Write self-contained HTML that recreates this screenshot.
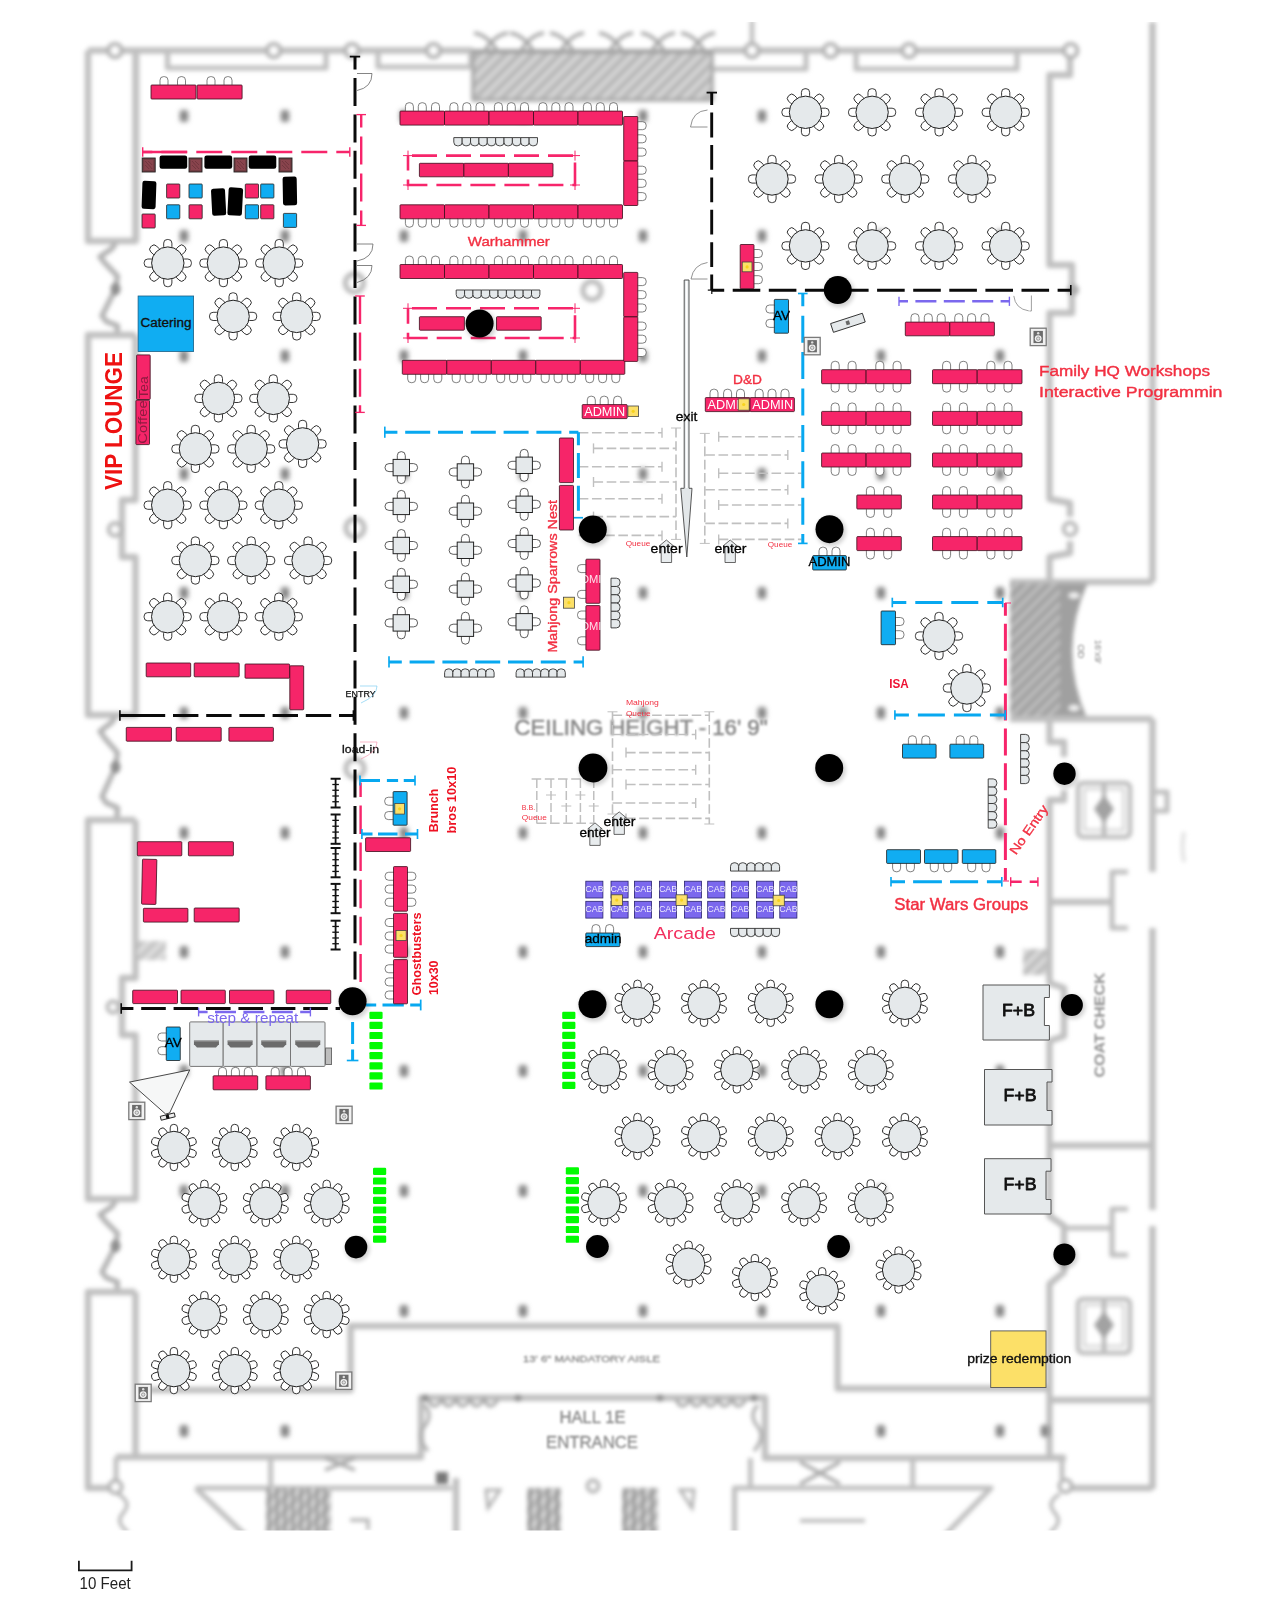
<!DOCTYPE html>
<html><head><meta charset="utf-8"><title>Floor plan</title>
<style>
html,body{margin:0;padding:0;background:#fff;}
body{width:1280px;height:1599px;overflow:hidden;font-family:"Liberation Sans",sans-serif;}
svg{display:block;font-family:"Liberation Sans",sans-serif;}
</style></head><body>
<svg width="1280" height="1599" viewBox="0 0 1280 1599">
<defs>
<filter id="b1" x="-5%" y="-5%" width="110%" height="110%"><feGaussianBlur stdDeviation="2"/></filter>
<filter id="b2" x="-50%" y="-50%" width="200%" height="200%"><feGaussianBlur stdDeviation="2"/></filter>
<filter id="b4" x="-100%" y="-100%" width="300%" height="300%"><feGaussianBlur stdDeviation="2.5"/></filter>
<filter id="b3" x="-20%" y="-20%" width="140%" height="140%"><feGaussianBlur stdDeviation="1.2"/></filter>
<pattern id="hatch" width="9.5" height="9.5" patternUnits="userSpaceOnUse" patternTransform="rotate(-45)"><rect width="9.5" height="9.5" fill="#b9b9b9"/><rect width="9.5" height="3.4" fill="#dcdcdc"/></pattern>
<pattern id="hatch2" width="8.9" height="8.9" patternUnits="userSpaceOnUse" patternTransform="rotate(-45)"><rect width="8.9" height="8.9" fill="#a2a2a2"/><rect width="8.9" height="3.2" fill="#c2c2c2"/></pattern>
<clipPath id="bgclip"><rect x="70" y="22" width="1140" height="1508.5"/></clipPath>
<g id="rt8"><g fill="#fff" stroke="#222" stroke-width="0.9"><rect x="-4.1" y="-23.6" width="8.2" height="10.6" rx="3.6" transform="rotate(0)"/><rect x="-4.1" y="-23.6" width="8.2" height="10.6" rx="3.6" transform="rotate(45)"/><rect x="-4.1" y="-23.6" width="8.2" height="10.6" rx="3.6" transform="rotate(90)"/><rect x="-4.1" y="-23.6" width="8.2" height="10.6" rx="3.6" transform="rotate(135)"/><rect x="-4.1" y="-23.6" width="8.2" height="10.6" rx="3.6" transform="rotate(180)"/><rect x="-4.1" y="-23.6" width="8.2" height="10.6" rx="3.6" transform="rotate(225)"/><rect x="-4.1" y="-23.6" width="8.2" height="10.6" rx="3.6" transform="rotate(270)"/><rect x="-4.1" y="-23.6" width="8.2" height="10.6" rx="3.6" transform="rotate(315)"/></g><circle r="16.2" fill="#E5E9EB" stroke="#222" stroke-width="1"/></g>
<g id="rt10"><g fill="#fff" stroke="#222" stroke-width="0.9"><rect x="-3.7" y="-23.2" width="7.4" height="10.2" rx="3.6" transform="rotate(0)"/><rect x="-3.7" y="-23.2" width="7.4" height="10.2" rx="3.6" transform="rotate(36)"/><rect x="-3.7" y="-23.2" width="7.4" height="10.2" rx="3.6" transform="rotate(72)"/><rect x="-3.7" y="-23.2" width="7.4" height="10.2" rx="3.6" transform="rotate(108)"/><rect x="-3.7" y="-23.2" width="7.4" height="10.2" rx="3.6" transform="rotate(144)"/><rect x="-3.7" y="-23.2" width="7.4" height="10.2" rx="3.6" transform="rotate(180)"/><rect x="-3.7" y="-23.2" width="7.4" height="10.2" rx="3.6" transform="rotate(216)"/><rect x="-3.7" y="-23.2" width="7.4" height="10.2" rx="3.6" transform="rotate(252)"/><rect x="-3.7" y="-23.2" width="7.4" height="10.2" rx="3.6" transform="rotate(288)"/><rect x="-3.7" y="-23.2" width="7.4" height="10.2" rx="3.6" transform="rotate(324)"/></g><circle r="16.2" fill="#E5E9EB" stroke="#222" stroke-width="1"/></g>
<g id="sq"><g fill="#fff" stroke="#333" stroke-width="0.8"><rect x="-4" y="-16" width="8" height="12" rx="4"/><rect x="-4" y="4" width="8" height="12" rx="4"/><rect x="-16.3" y="-4" width="12" height="8" rx="4"/><rect x="4.3" y="-4" width="12" height="8" rx="4"/></g><rect x="-8.2" y="-8.2" width="16.4" height="16.4" fill="#E5E9EB" stroke="#222" stroke-width="1"/></g>
<g id="spk"><rect x="0.6" y="0" width="16" height="17.4" fill="#F1F1F1" stroke="#7a7a7a" stroke-width="1.3"/><rect x="3.9" y="2.7" width="9.4" height="12.2" fill="#6c6c6c"/><circle cx="8.6" cy="10.4" r="3.4" fill="#f2f2f2"/><circle cx="8.6" cy="10.4" r="1.7" fill="#e0e0e0" stroke="#7e7e7e" stroke-width="0.7"/><circle cx="8.6" cy="5" r="1.2" fill="#ddd"/></g>
<g id="uparrow"><path d="M0 0 L7.2 6 L5.2 6 L5.2 22.5 L-5.2 22.5 L-5.2 6 L-7.2 6 Z" fill="#E8ECEE" stroke="#444" stroke-width="0.8"/></g>
</defs>
<g clip-path="url(#bgclip)"><g filter="url(#b1)">
<path d="M88 50.5 L473 50.5" fill="none" stroke="#c0c0c0" stroke-width="6.4" stroke-linejoin="round"/>
<path d="M712 50.5 L1070 50.5" fill="none" stroke="#c0c0c0" stroke-width="6.4" stroke-linejoin="round"/>
<path d="M167.5 52 L167.5 68 L326 68 L326 52" fill="none" stroke="#c0c0c0" stroke-width="5.22" stroke-linejoin="round"/>
<path d="M378 52 L378 67 L471 67 L471 52" fill="none" stroke="#c0c0c0" stroke-width="5.22" stroke-linejoin="round"/>
<path d="M700 52 L700 69 L806 69 L806 52" fill="none" stroke="#c0c0c0" stroke-width="5.22" stroke-linejoin="round"/>
<path d="M856 52 L856 69 L1017 69 L1017 52" fill="none" stroke="#c0c0c0" stroke-width="5.22" stroke-linejoin="round"/>
<path d="M752 20 L752 44" fill="none" stroke="#c0c0c0" stroke-width="4.64" stroke-linejoin="round"/>
<rect x="473" y="50" width="239" height="50" fill="url(#hatch)"/>
<path d="M473 50 L473 100 L712 100 L712 50" fill="none" stroke="#a8a8a8" stroke-width="3.62" stroke-linejoin="round"/>
<path d="M473 51.5 H712" stroke="#a6a6a6" stroke-width="5" fill="none"/>
<path d="M474 33 Q488 35 498 52 M508 33 Q494 35 484 52" fill="none" stroke="#a8a8a8" stroke-width="3.4"/>
<path d="M510 33 Q524 35 534 52 M544 33 Q530 35 520 52" fill="none" stroke="#a8a8a8" stroke-width="3.4"/>
<path d="M550 33 Q564 35 574 52 M584 33 Q570 35 560 52" fill="none" stroke="#a8a8a8" stroke-width="3.4"/>
<path d="M599 33 Q613 35 623 52 M633 33 Q619 35 609 52" fill="none" stroke="#a8a8a8" stroke-width="3.4"/>
<path d="M641 33 Q655 35 665 52 M675 33 Q661 35 651 52" fill="none" stroke="#a8a8a8" stroke-width="3.4"/>
<path d="M681 33 Q695 35 705 52 M715 33 Q701 35 691 52" fill="none" stroke="#a8a8a8" stroke-width="3.4"/>
<path d="M88 50.5 L88 241 L135.5 241 L135.5 50.5" fill="none" stroke="#c0c0c0" stroke-width="6.4" stroke-linejoin="round"/>
<path d="M137.5 52 L137.5 241" fill="none" stroke="#c2c2c2" stroke-width="3.62" stroke-linejoin="round"/>
<path d="M115.5 243 L112 248.52 L100 256.8 L105 263.24 L117.5 276.12 L115.5 289 L102 315.68 L106 321.2 L117.5 325.8 L117 335" fill="none" stroke="#b4b4b4" stroke-width="5.4" stroke-linejoin="round"/>
<ellipse cx="115.5" cy="289" rx="5" ry="6.5" fill="#8f8f8f"/>
<path d="M135.5 335 L88 335 L88 715 L135.5 715 L135.5 557 L122 557 L122 500 L135.5 500 L135.5 335" fill="none" stroke="#c0c0c0" stroke-width="6.4" stroke-linejoin="round"/>
<path d="M115.5 716 L112 722.12 L100 731.3 L105 738.44 L117.5 752.72 L115.5 767 L102 796.58 L106 802.7 L117.5 807.8 L117 818" fill="none" stroke="#b4b4b4" stroke-width="5.4" stroke-linejoin="round"/>
<ellipse cx="115.5" cy="767" rx="5" ry="6.5" fill="#8f8f8f"/>
<path d="M135.5 820 L88 820 L88 1199 L135.5 1199 L135.5 1035 L122 1035 L122 978 L135.5 978 L135.5 820" fill="none" stroke="#c0c0c0" stroke-width="6.4" stroke-linejoin="round"/>
<path d="M115.5 1201 L112 1206.4 L100 1214.5 L105 1220.8 L117.5 1233.4 L115.5 1246 L102 1272.1 L106 1277.5 L117.5 1282 L117 1291" fill="none" stroke="#b4b4b4" stroke-width="5.4" stroke-linejoin="round"/>
<ellipse cx="115.5" cy="1246" rx="5" ry="6.5" fill="#8f8f8f"/>
<path d="M135.5 1292 L88 1292 L88 1488 L116 1488" fill="none" stroke="#c0c0c0" stroke-width="6.4" stroke-linejoin="round"/>
<path d="M135.5 1292 L135.5 1457" fill="none" stroke="#c0c0c0" stroke-width="6.4" stroke-linejoin="round"/>
<path d="M118 1494 q14 8 6 18 q-10 10 4 20" fill="none" stroke="#b8b8b8" stroke-width="3.6"/>
<rect x="137" y="941" width="29" height="19" fill="url(#hatch)" opacity="0.8"/>
<rect x="1023" y="949" width="25" height="26" fill="url(#hatch)" opacity="0.9"/>
<path d="M1070 50.5 L1070 75 L1049.5 75 L1049.5 265 L1072 265 L1072 313 L1049.5 313 L1049.5 499 L1070 503 L1070 517" fill="none" stroke="#c0c0c0" stroke-width="6.4" stroke-linejoin="round"/>
<path d="M1070 541 L1070 553 L1049.5 557 L1049.5 582" fill="none" stroke="#c0c0c0" stroke-width="6.4" stroke-linejoin="round"/>
<path d="M1152.5 22 L1152.5 582" fill="none" stroke="#c0c0c0" stroke-width="6.6" stroke-linejoin="round"/>
<path d="M1152.5 719 L1152.5 872" fill="none" stroke="#c0c0c0" stroke-width="6.6" stroke-linejoin="round"/>
<path d="M1152.5 928 L1152.5 1210" fill="none" stroke="#c0c0c0" stroke-width="6.6" stroke-linejoin="round"/>
<path d="M1152.5 1226 L1152.5 1489" fill="none" stroke="#c0c0c0" stroke-width="6.6" stroke-linejoin="round"/>
<path d="M1010 582 L1152.5 582" fill="none" stroke="#c0c0c0" stroke-width="6.4" stroke-linejoin="round"/>
<circle cx="1073" cy="290" r="6" fill="#adadad"/>
<rect x="1010" y="583.5" width="51" height="136" fill="url(#hatch2)"/>
<path d="M1060 583.5 L1087.5 583.5 Q1057 651 1087.5 719.5 L1060 719.5 Z" fill="#a0a0a0"/>
<ellipse cx="1074" cy="595.5" rx="5.5" ry="3" fill="#f4f4f4"/>
<ellipse cx="1074" cy="708" rx="5.5" ry="3" fill="#f4f4f4"/>
<path d="M1010 719 L1152.5 719" fill="none" stroke="#c0c0c0" stroke-width="6.4" stroke-linejoin="round"/>
<path d="M1049.5 719 L1049.5 742 L1064 742 L1064 757" fill="none" stroke="#c0c0c0" stroke-width="6.4" stroke-linejoin="round"/>
<path d="M1064 790 L1064 800 L1049.5 800 L1049.5 983 L1064 988 L1064 1036 L1049.5 1041 L1049.5 1216 L1064 1226 L1064 1272 L1049.5 1284 L1049.5 1457" fill="none" stroke="#c0c0c0" stroke-width="6.4" stroke-linejoin="round"/>
<path d="M1049.5 902 L1112 902" fill="none" stroke="#c0c0c0" stroke-width="6.4" stroke-linejoin="round"/>
<path d="M1128 872 L1112 872 L1112 928 L1128 928" fill="none" stroke="#c0c0c0" stroke-width="5.22" stroke-linejoin="round"/>
<path d="M1049.5 1145.5 L1152.5 1145.5" fill="none" stroke="#c0c0c0" stroke-width="6.4" stroke-linejoin="round"/>
<path d="M1064 1228 L1112 1228" fill="none" stroke="#c0c0c0" stroke-width="4.93" stroke-linejoin="round"/>
<path d="M1128 1209 L1112 1209 L1112 1255 L1128 1255" fill="none" stroke="#c0c0c0" stroke-width="5.22" stroke-linejoin="round"/>
<path d="M1049.5 1400 L1152.5 1400" fill="none" stroke="#c0c0c0" stroke-width="6.4" stroke-linejoin="round"/>
<rect x="1078" y="783" width="52" height="54" rx="5" fill="none" stroke="#bdbdbd" stroke-width="4.6"/>
<rect x="1084.5" y="789" width="39" height="41" fill="none" stroke="#d2d2d2" stroke-width="2.6"/>
<path d="M1104 785 v50" stroke="#b2b2b2" stroke-width="4" fill="none"/>
<path d="M1104 795 l10 14 l-10 14 l-10 -14 z" fill="#a2a2a2"/>
<rect x="1078" y="1299" width="52" height="54" rx="5" fill="none" stroke="#bdbdbd" stroke-width="4.6"/>
<rect x="1084.5" y="1305" width="39" height="41" fill="none" stroke="#d2d2d2" stroke-width="2.6"/>
<path d="M1104 1301 v50" stroke="#b2b2b2" stroke-width="4" fill="none"/>
<path d="M1104 1311 l10 14 l-10 14 l-10 -14 z" fill="#a2a2a2"/>
<path d="M1152.5 792 L1167 792 L1167 811 L1152.5 811" fill="none" stroke="#c0c0c0" stroke-width="5.22" stroke-linejoin="round"/>
<path d="M1184 832 q-3 14 0 30" stroke="#e2e2e2" stroke-width="4" fill="none"/>
<path d="M135.5 1390 L350.6 1390 L350.6 1326 L837.6 1326 L837.6 1388.5 L1049.5 1388.5" fill="none" stroke="#c0c0c0" stroke-width="6.4" stroke-linejoin="round"/>
<path d="M116 1457 L421 1457 L421 1397.7 L765 1397.7 L765 1458 L1066 1458" fill="none" stroke="#c0c0c0" stroke-width="6.4" stroke-linejoin="round"/>
<path d="M116 1457 L116 1480" fill="none" stroke="#c0c0c0" stroke-width="4.93" stroke-linejoin="round"/>
<path d="M195.6 1488 L452 1488" fill="none" stroke="#c0c0c0" stroke-width="5.22" stroke-linejoin="round"/>
<path d="M270.7 1457 L270.7 1488" fill="none" stroke="#c0c0c0" stroke-width="4.93" stroke-linejoin="round"/>
<path d="M456 1478 L456 1535" fill="none" stroke="#c0c0c0" stroke-width="6.4" stroke-linejoin="round"/>
<path d="M195.6 1488 L245 1535" fill="none" stroke="#c0c0c0" stroke-width="5.22" stroke-linejoin="round"/>
<rect x="266" y="1488" width="65" height="46" fill="url(#hatch)"/>
<path d="M269 1488 v46" stroke="#8f8f8f" stroke-width="2.6"/>
<path d="M277 1488 v46" stroke="#8f8f8f" stroke-width="2.6"/>
<path d="M285 1488 v46" stroke="#8f8f8f" stroke-width="2.6"/>
<path d="M293 1488 v46" stroke="#8f8f8f" stroke-width="2.6"/>
<path d="M301 1488 v46" stroke="#8f8f8f" stroke-width="2.6"/>
<path d="M309 1488 v46" stroke="#8f8f8f" stroke-width="2.6"/>
<path d="M317 1488 v46" stroke="#8f8f8f" stroke-width="2.6"/>
<path d="M325 1488 v46" stroke="#8f8f8f" stroke-width="2.6"/>
<path d="M325 1470 l30 -12 M325 1458 l30 12" stroke="#a5a5a5" stroke-width="3.4" fill="none"/>
<path d="M350 1520 h18 v10" stroke="#b5b5b5" stroke-width="3.4" fill="none"/>
<path d="M428 1399 q6 14 14 0 q6 14 14 0 q6 14 14 0 q6 14 14 0 q6 14 14 0" fill="none" stroke="#a5a5a5" stroke-width="3.2"/>
<path d="M676 1399 q6 14 14 0 q6 14 14 0 q6 14 14 0 q6 14 14 0 q6 14 14 0" fill="none" stroke="#a5a5a5" stroke-width="3.2"/>
<circle cx="425" cy="1398" r="3.6" fill="#8d8d8d"/>
<circle cx="518" cy="1398" r="3.6" fill="#8d8d8d"/>
<circle cx="660" cy="1398" r="3.6" fill="#8d8d8d"/>
<circle cx="754" cy="1398" r="3.6" fill="#8d8d8d"/>
<path d="M424 1405 q10 10 0 22 q-8 10 4 24" fill="none" stroke="#adadad" stroke-width="3.4"/>
<path d="M758 1405 q-10 10 0 22 q8 10 -4 24" fill="none" stroke="#adadad" stroke-width="3.4"/>
<rect x="436" y="1472" width="12" height="12" fill="#777"/>
<rect x="527" y="1488" width="34" height="46" fill="url(#hatch)"/>
<rect x="622" y="1488" width="36" height="46" fill="url(#hatch)"/>
<path d="M530 1488 v46" stroke="#8f8f8f" stroke-width="3"/>
<path d="M539 1488 v46" stroke="#8f8f8f" stroke-width="3"/>
<path d="M548 1488 v46" stroke="#8f8f8f" stroke-width="3"/>
<path d="M557 1488 v46" stroke="#8f8f8f" stroke-width="3"/>
<path d="M625 1488 v46" stroke="#8f8f8f" stroke-width="3"/>
<path d="M634 1488 v46" stroke="#8f8f8f" stroke-width="3"/>
<path d="M643 1488 v46" stroke="#8f8f8f" stroke-width="3"/>
<path d="M652 1488 v46" stroke="#8f8f8f" stroke-width="3"/>
<path d="M486 1490 l14 0 l-12 18 z" fill="none" stroke="#b0b0b0" stroke-width="3"/>
<path d="M694 1490 l-14 0 l12 18 z" fill="none" stroke="#b0b0b0" stroke-width="3"/>
<path d="M734.5 1535 L734.5 1488 L991 1488 L945 1535" fill="none" stroke="#c0c0c0" stroke-width="5.22" stroke-linejoin="round"/>
<path d="M750.4 1458 L750.4 1488" fill="none" stroke="#c0c0c0" stroke-width="4.93" stroke-linejoin="round"/>
<path d="M912.7 1458 L912.7 1488" fill="none" stroke="#c0c0c0" stroke-width="4.93" stroke-linejoin="round"/>
<path d="M800 1520.7 h65" stroke="#b5b5b5" stroke-width="3.4"/>
<path d="M800 1462 l40 22 M840 1462 l-40 22" stroke="#a5a5a5" stroke-width="3.4" fill="none"/>
<path d="M1152.5 1488 L1072 1488" fill="none" stroke="#c0c0c0" stroke-width="6.4" stroke-linejoin="round"/>
<path d="M1049.5 1457 L1062 1457 L1062 1479" fill="none" stroke="#c0c0c0" stroke-width="4.93" stroke-linejoin="round"/>
<path d="M1060 1494 q-14 8 -6 18 q10 10 -4 20" fill="none" stroke="#b8b8b8" stroke-width="3.6"/>
<circle cx="115" cy="50.5" r="6.6" fill="#fff" stroke="#b4b4b4" stroke-width="4.32"/>
<circle cx="273.75" cy="50.5" r="6.6" fill="#fff" stroke="#b4b4b4" stroke-width="4.32"/>
<circle cx="352" cy="50.5" r="6.6" fill="#fff" stroke="#b4b4b4" stroke-width="4.32"/>
<circle cx="433.5" cy="50.5" r="6.6" fill="#fff" stroke="#b4b4b4" stroke-width="4.32"/>
<circle cx="752" cy="50.5" r="6.6" fill="#fff" stroke="#b4b4b4" stroke-width="4.32"/>
<circle cx="830.5" cy="50.5" r="6.6" fill="#fff" stroke="#b4b4b4" stroke-width="4.32"/>
<circle cx="909" cy="50.5" r="6.6" fill="#fff" stroke="#b4b4b4" stroke-width="4.32"/>
<circle cx="1070.7" cy="50.5" r="6.6" fill="#fff" stroke="#b4b4b4" stroke-width="4.32"/>
<circle cx="115" cy="529.5" r="6.2" fill="#fff" stroke="#b4b4b4" stroke-width="4.08"/>
<circle cx="113" cy="1007" r="5.5" fill="#fff" stroke="#b4b4b4" stroke-width="3.84"/>
<circle cx="115.5" cy="1487" r="6.2" fill="#fff" stroke="#b4b4b4" stroke-width="4.08"/>
<circle cx="1070" cy="529" r="6.2" fill="#fff" stroke="#b4b4b4" stroke-width="4.08"/>
<circle cx="593" cy="1486" r="5.5" fill="#fff" stroke="#b4b4b4" stroke-width="3.84"/>
<circle cx="1065.5" cy="1486" r="6" fill="#fff" stroke="#b4b4b4" stroke-width="4.08"/>
<circle cx="592" cy="290.5" r="9" fill="#fff" stroke="#bdbdbd" stroke-width="5.4"/>
<circle cx="354.4" cy="283" r="9" fill="#fff" stroke="#bdbdbd" stroke-width="5.4"/>
<circle cx="355" cy="528" r="9" fill="#fff" stroke="#bdbdbd" stroke-width="5.4"/>
<circle cx="355" cy="768.5" r="9" fill="#fff" stroke="#bdbdbd" stroke-width="5.4"/>
</g><g filter="url(#b4)">
<rect x="179.75" y="110" width="8.5" height="12" rx="3" fill="#868686"/>
<rect x="179.75" y="230" width="8.5" height="12" rx="3" fill="#868686"/>
<rect x="179.75" y="350" width="8.5" height="12" rx="3" fill="#868686"/>
<rect x="179.75" y="468" width="8.5" height="12" rx="3" fill="#868686"/>
<rect x="179.75" y="587" width="8.5" height="12" rx="3" fill="#868686"/>
<rect x="179.75" y="707" width="8.5" height="12" rx="3" fill="#868686"/>
<rect x="179.75" y="827" width="8.5" height="12" rx="3" fill="#868686"/>
<rect x="179.75" y="946" width="8.5" height="12" rx="3" fill="#868686"/>
<rect x="179.75" y="1065" width="8.5" height="12" rx="3" fill="#868686"/>
<rect x="179.75" y="1185" width="8.5" height="12" rx="3" fill="#868686"/>
<rect x="280.75" y="110" width="8.5" height="12" rx="3" fill="#868686"/>
<rect x="280.75" y="230" width="8.5" height="12" rx="3" fill="#868686"/>
<rect x="280.75" y="350" width="8.5" height="12" rx="3" fill="#868686"/>
<rect x="280.75" y="468" width="8.5" height="12" rx="3" fill="#868686"/>
<rect x="280.75" y="587" width="8.5" height="12" rx="3" fill="#868686"/>
<rect x="280.75" y="707" width="8.5" height="12" rx="3" fill="#868686"/>
<rect x="280.75" y="827" width="8.5" height="12" rx="3" fill="#868686"/>
<rect x="280.75" y="946" width="8.5" height="12" rx="3" fill="#868686"/>
<rect x="280.75" y="1065" width="8.5" height="12" rx="3" fill="#868686"/>
<rect x="280.75" y="1185" width="8.5" height="12" rx="3" fill="#868686"/>
<rect x="399.75" y="110" width="8.5" height="12" rx="3" fill="#868686"/>
<rect x="399.75" y="230" width="8.5" height="12" rx="3" fill="#868686"/>
<rect x="399.75" y="350" width="8.5" height="12" rx="3" fill="#868686"/>
<rect x="399.75" y="468" width="8.5" height="12" rx="3" fill="#868686"/>
<rect x="399.75" y="587" width="8.5" height="12" rx="3" fill="#868686"/>
<rect x="399.75" y="707" width="8.5" height="12" rx="3" fill="#868686"/>
<rect x="399.75" y="827" width="8.5" height="12" rx="3" fill="#868686"/>
<rect x="399.75" y="946" width="8.5" height="12" rx="3" fill="#868686"/>
<rect x="399.75" y="1065" width="8.5" height="12" rx="3" fill="#868686"/>
<rect x="399.75" y="1185" width="8.5" height="12" rx="3" fill="#868686"/>
<rect x="399.75" y="1305" width="8.5" height="12" rx="3" fill="#868686"/>
<rect x="518.75" y="110" width="8.5" height="12" rx="3" fill="#868686"/>
<rect x="518.75" y="230" width="8.5" height="12" rx="3" fill="#868686"/>
<rect x="518.75" y="350" width="8.5" height="12" rx="3" fill="#868686"/>
<rect x="518.75" y="468" width="8.5" height="12" rx="3" fill="#868686"/>
<rect x="518.75" y="587" width="8.5" height="12" rx="3" fill="#868686"/>
<rect x="518.75" y="707" width="8.5" height="12" rx="3" fill="#868686"/>
<rect x="518.75" y="827" width="8.5" height="12" rx="3" fill="#868686"/>
<rect x="518.75" y="946" width="8.5" height="12" rx="3" fill="#868686"/>
<rect x="518.75" y="1065" width="8.5" height="12" rx="3" fill="#868686"/>
<rect x="518.75" y="1185" width="8.5" height="12" rx="3" fill="#868686"/>
<rect x="518.75" y="1305" width="8.5" height="12" rx="3" fill="#868686"/>
<rect x="638.75" y="110" width="8.5" height="12" rx="3" fill="#868686"/>
<rect x="638.75" y="230" width="8.5" height="12" rx="3" fill="#868686"/>
<rect x="638.75" y="350" width="8.5" height="12" rx="3" fill="#868686"/>
<rect x="638.75" y="468" width="8.5" height="12" rx="3" fill="#868686"/>
<rect x="638.75" y="587" width="8.5" height="12" rx="3" fill="#868686"/>
<rect x="638.75" y="707" width="8.5" height="12" rx="3" fill="#868686"/>
<rect x="638.75" y="827" width="8.5" height="12" rx="3" fill="#868686"/>
<rect x="638.75" y="946" width="8.5" height="12" rx="3" fill="#868686"/>
<rect x="638.75" y="1065" width="8.5" height="12" rx="3" fill="#868686"/>
<rect x="638.75" y="1185" width="8.5" height="12" rx="3" fill="#868686"/>
<rect x="638.75" y="1305" width="8.5" height="12" rx="3" fill="#868686"/>
<rect x="757.75" y="110" width="8.5" height="12" rx="3" fill="#868686"/>
<rect x="757.75" y="230" width="8.5" height="12" rx="3" fill="#868686"/>
<rect x="757.75" y="350" width="8.5" height="12" rx="3" fill="#868686"/>
<rect x="757.75" y="468" width="8.5" height="12" rx="3" fill="#868686"/>
<rect x="757.75" y="587" width="8.5" height="12" rx="3" fill="#868686"/>
<rect x="757.75" y="707" width="8.5" height="12" rx="3" fill="#868686"/>
<rect x="757.75" y="827" width="8.5" height="12" rx="3" fill="#868686"/>
<rect x="757.75" y="946" width="8.5" height="12" rx="3" fill="#868686"/>
<rect x="757.75" y="1065" width="8.5" height="12" rx="3" fill="#868686"/>
<rect x="757.75" y="1185" width="8.5" height="12" rx="3" fill="#868686"/>
<rect x="757.75" y="1305" width="8.5" height="12" rx="3" fill="#868686"/>
<rect x="876.75" y="110" width="8.5" height="12" rx="3" fill="#868686"/>
<rect x="876.75" y="230" width="8.5" height="12" rx="3" fill="#868686"/>
<rect x="876.75" y="350" width="8.5" height="12" rx="3" fill="#868686"/>
<rect x="876.75" y="468" width="8.5" height="12" rx="3" fill="#868686"/>
<rect x="876.75" y="587" width="8.5" height="12" rx="3" fill="#868686"/>
<rect x="876.75" y="707" width="8.5" height="12" rx="3" fill="#868686"/>
<rect x="876.75" y="827" width="8.5" height="12" rx="3" fill="#868686"/>
<rect x="876.75" y="946" width="8.5" height="12" rx="3" fill="#868686"/>
<rect x="876.75" y="1065" width="8.5" height="12" rx="3" fill="#868686"/>
<rect x="876.75" y="1185" width="8.5" height="12" rx="3" fill="#868686"/>
<rect x="876.75" y="1305" width="8.5" height="12" rx="3" fill="#868686"/>
<rect x="995.75" y="110" width="8.5" height="12" rx="3" fill="#868686"/>
<rect x="995.75" y="230" width="8.5" height="12" rx="3" fill="#868686"/>
<rect x="995.75" y="350" width="8.5" height="12" rx="3" fill="#868686"/>
<rect x="995.75" y="468" width="8.5" height="12" rx="3" fill="#868686"/>
<rect x="995.75" y="587" width="8.5" height="12" rx="3" fill="#868686"/>
<rect x="995.75" y="707" width="8.5" height="12" rx="3" fill="#868686"/>
<rect x="995.75" y="827" width="8.5" height="12" rx="3" fill="#868686"/>
<rect x="995.75" y="946" width="8.5" height="12" rx="3" fill="#868686"/>
<rect x="995.75" y="1065" width="8.5" height="12" rx="3" fill="#868686"/>
<rect x="995.75" y="1185" width="8.5" height="12" rx="3" fill="#868686"/>
<rect x="995.75" y="1305" width="8.5" height="12" rx="3" fill="#868686"/>
<rect x="179.75" y="1425" width="8.5" height="12" rx="3" fill="#868686"/>
<rect x="280.75" y="1425" width="8.5" height="12" rx="3" fill="#868686"/>
<rect x="876.75" y="1425" width="8.5" height="12" rx="3" fill="#868686"/>
<rect x="995.75" y="1425" width="8.5" height="12" rx="3" fill="#868686"/>
<rect x="1040.75" y="1425" width="8.5" height="12" rx="3" fill="#868686"/>
</g><g filter="url(#b3)">
<text x="1078.2" y="651.3" font-size="9.5" fill="#858585" font-weight="normal" text-anchor="middle" transform="rotate(90 1078.2 651.3)">OD</text>
<text x="1094.5" y="651.7" font-size="9.5" fill="#858585" font-weight="normal" text-anchor="middle" transform="rotate(90 1094.5 651.7)">16'x9'</text>
<text x="1104.5" y="1025" font-size="15.5" fill="#8f8f8f" font-weight="bold" text-anchor="middle" textLength="105" lengthAdjust="spacingAndGlyphs" transform="rotate(-90 1104.5 1025)">COAT CHECK</text>
<text x="591.5" y="1362" font-size="9.5" fill="#858585" font-weight="normal" text-anchor="middle" textLength="137" lengthAdjust="spacingAndGlyphs" stroke="#858585" stroke-width="0.26" stroke-linejoin="round">13' 6" MANDATORY AISLE</text>
<text x="592.5" y="1422.5" font-size="16" fill="#8a8a8a" font-weight="normal" text-anchor="middle" textLength="66" lengthAdjust="spacingAndGlyphs" stroke="#8a8a8a" stroke-width="0.3" stroke-linejoin="round">HALL 1E</text>
<text x="592" y="1448" font-size="16" fill="#8a8a8a" font-weight="normal" text-anchor="middle" textLength="92" lengthAdjust="spacingAndGlyphs" stroke="#8a8a8a" stroke-width="0.3" stroke-linejoin="round">ENTRANCE</text>
<text x="641" y="734.5" font-size="22.5" fill="#8a8a8a" font-weight="normal" text-anchor="middle" textLength="253" lengthAdjust="spacingAndGlyphs" stroke="#8a8a8a" stroke-width="0.61" stroke-linejoin="round">CEILING HEIGHT  -  16' 9"</text>
</g></g>
<g>
<line x1="578.75" y1="432.7" x2="662" y2="432.7" stroke="#c0c0c0" stroke-width="1.6" stroke-dasharray="9.6 3.6"/>
<line x1="662" y1="427.7" x2="662" y2="437.7" stroke="#c0c0c0" stroke-width="1.4"/>
<line x1="593.5" y1="448.4" x2="676" y2="448.4" stroke="#c0c0c0" stroke-width="1.6" stroke-dasharray="9.6 3.6"/>
<line x1="593.5" y1="443.4" x2="593.5" y2="453.4" stroke="#c0c0c0" stroke-width="1.4"/>
<line x1="578.75" y1="466.7" x2="662" y2="466.7" stroke="#c0c0c0" stroke-width="1.6" stroke-dasharray="9.6 3.6"/>
<line x1="662" y1="461.7" x2="662" y2="471.7" stroke="#c0c0c0" stroke-width="1.4"/>
<line x1="593.5" y1="482" x2="676" y2="482" stroke="#c0c0c0" stroke-width="1.6" stroke-dasharray="9.6 3.6"/>
<line x1="593.5" y1="477" x2="593.5" y2="487" stroke="#c0c0c0" stroke-width="1.4"/>
<line x1="578.75" y1="498.8" x2="662" y2="498.8" stroke="#c0c0c0" stroke-width="1.6" stroke-dasharray="9.6 3.6"/>
<line x1="662" y1="493.8" x2="662" y2="503.8" stroke="#c0c0c0" stroke-width="1.4"/>
<line x1="593.5" y1="516.6" x2="676" y2="516.6" stroke="#c0c0c0" stroke-width="1.6" stroke-dasharray="9.6 3.6"/>
<line x1="593.5" y1="511.6" x2="593.5" y2="521.6" stroke="#c0c0c0" stroke-width="1.4"/>
<line x1="578.75" y1="535.4" x2="662" y2="535.4" stroke="#c0c0c0" stroke-width="1.6" stroke-dasharray="9.6 3.6"/>
<line x1="662" y1="530.4" x2="662" y2="540.4" stroke="#c0c0c0" stroke-width="1.4"/>
<line x1="676" y1="428" x2="676" y2="539.4" stroke="#c0c0c0" stroke-width="1.6" stroke-dasharray="9.6 3.6"/>
<line x1="671" y1="428" x2="681" y2="428" stroke="#c0c0c0" stroke-width="1"/>
<line x1="671" y1="539.4" x2="681" y2="539.4" stroke="#c0c0c0" stroke-width="1"/>
<line x1="704.8" y1="433.4" x2="704.8" y2="543.4" stroke="#c0c0c0" stroke-width="1.6" stroke-dasharray="9.6 3.6"/>
<line x1="699.8" y1="433.4" x2="709.8" y2="433.4" stroke="#c0c0c0" stroke-width="1"/>
<line x1="699.8" y1="543.4" x2="709.8" y2="543.4" stroke="#c0c0c0" stroke-width="1"/>
<line x1="718.7" y1="436.7" x2="801.4" y2="436.7" stroke="#c0c0c0" stroke-width="1.6" stroke-dasharray="9.6 3.6"/>
<line x1="718.7" y1="431.7" x2="718.7" y2="441.7" stroke="#c0c0c0" stroke-width="1.4"/>
<line x1="705.3" y1="455" x2="787.8" y2="455" stroke="#c0c0c0" stroke-width="1.6" stroke-dasharray="9.6 3.6"/>
<line x1="787.8" y1="450" x2="787.8" y2="460" stroke="#c0c0c0" stroke-width="1.4"/>
<line x1="718.7" y1="473.3" x2="801.4" y2="473.3" stroke="#c0c0c0" stroke-width="1.6" stroke-dasharray="9.6 3.6"/>
<line x1="718.7" y1="468.3" x2="718.7" y2="478.3" stroke="#c0c0c0" stroke-width="1.4"/>
<line x1="705.3" y1="489.7" x2="787.8" y2="489.7" stroke="#c0c0c0" stroke-width="1.6" stroke-dasharray="9.6 3.6"/>
<line x1="787.8" y1="484.7" x2="787.8" y2="494.7" stroke="#c0c0c0" stroke-width="1.4"/>
<line x1="718.7" y1="505" x2="801.4" y2="505" stroke="#c0c0c0" stroke-width="1.6" stroke-dasharray="9.6 3.6"/>
<line x1="718.7" y1="500" x2="718.7" y2="510" stroke="#c0c0c0" stroke-width="1.4"/>
<line x1="705.3" y1="523.4" x2="787.8" y2="523.4" stroke="#c0c0c0" stroke-width="1.6" stroke-dasharray="9.6 3.6"/>
<line x1="787.8" y1="518.4" x2="787.8" y2="528.4" stroke="#c0c0c0" stroke-width="1.4"/>
<line x1="718.7" y1="539.4" x2="801.4" y2="539.4" stroke="#c0c0c0" stroke-width="1.6" stroke-dasharray="9.6 3.6"/>
<line x1="718.7" y1="534.4" x2="718.7" y2="544.4" stroke="#c0c0c0" stroke-width="1.4"/>
<line x1="612.5" y1="711.8" x2="612.5" y2="814" stroke="#c0c0c0" stroke-width="1.6" stroke-dasharray="9.6 3.6"/>
<line x1="607.5" y1="711.8" x2="617.5" y2="711.8" stroke="#c0c0c0" stroke-width="1"/>
<line x1="607.5" y1="814" x2="617.5" y2="814" stroke="#c0c0c0" stroke-width="1"/>
<line x1="709.3" y1="711.8" x2="709.3" y2="824" stroke="#c0c0c0" stroke-width="1.6" stroke-dasharray="9.6 3.6"/>
<line x1="704.3" y1="711.8" x2="714.3" y2="711.8" stroke="#c0c0c0" stroke-width="1"/>
<line x1="704.3" y1="824" x2="714.3" y2="824" stroke="#c0c0c0" stroke-width="1"/>
<line x1="612.5" y1="715.3" x2="709.3" y2="715.3" stroke="#c0c0c0" stroke-width="1.6" stroke-dasharray="9.6 3.6"/>
<line x1="612.5" y1="734.5" x2="695.7" y2="734.5" stroke="#c0c0c0" stroke-width="1.6" stroke-dasharray="9.6 3.6"/>
<line x1="695.7" y1="729.5" x2="695.7" y2="739.5" stroke="#c0c0c0" stroke-width="1.4"/>
<line x1="626" y1="752.6" x2="709.3" y2="752.6" stroke="#c0c0c0" stroke-width="1.6" stroke-dasharray="9.6 3.6"/>
<line x1="626" y1="747.6" x2="626" y2="757.6" stroke="#c0c0c0" stroke-width="1.4"/>
<line x1="612.5" y1="769.7" x2="695.7" y2="769.7" stroke="#c0c0c0" stroke-width="1.6" stroke-dasharray="9.6 3.6"/>
<line x1="695.7" y1="764.7" x2="695.7" y2="774.7" stroke="#c0c0c0" stroke-width="1.4"/>
<line x1="626" y1="784.5" x2="709.3" y2="784.5" stroke="#c0c0c0" stroke-width="1.6" stroke-dasharray="9.6 3.6"/>
<line x1="626" y1="779.5" x2="626" y2="789.5" stroke="#c0c0c0" stroke-width="1.4"/>
<line x1="612.5" y1="803" x2="695.7" y2="803" stroke="#c0c0c0" stroke-width="1.6" stroke-dasharray="9.6 3.6"/>
<line x1="695.7" y1="798" x2="695.7" y2="808" stroke="#c0c0c0" stroke-width="1.4"/>
<line x1="626" y1="818.4" x2="709.3" y2="818.4" stroke="#c0c0c0" stroke-width="1.6" stroke-dasharray="9.6 3.6"/>
<line x1="626" y1="813.4" x2="626" y2="823.4" stroke="#c0c0c0" stroke-width="1.4"/>
<line x1="536.8" y1="779" x2="536.8" y2="823.6" stroke="#c0c0c0" stroke-width="1.5" stroke-dasharray="9 3"/>
<line x1="551" y1="779" x2="551" y2="823.6" stroke="#c0c0c0" stroke-width="1.5" stroke-dasharray="9 3"/>
<line x1="566.3" y1="779" x2="566.3" y2="823.6" stroke="#c0c0c0" stroke-width="1.5" stroke-dasharray="9 3"/>
<line x1="580.4" y1="779" x2="580.4" y2="823.6" stroke="#c0c0c0" stroke-width="1.5" stroke-dasharray="9 3"/>
<line x1="593.75" y1="779" x2="593.75" y2="823.6" stroke="#c0c0c0" stroke-width="1.5" stroke-dasharray="9 3"/>
<line x1="531.6" y1="779" x2="600.8" y2="779" stroke="#c0c0c0" stroke-width="1.6" stroke-dasharray="9.6 3.6"/>
<line x1="536.8" y1="823.3" x2="593.75" y2="823.3" stroke="#c0c0c0" stroke-width="1.6" stroke-dasharray="9.6 3.6"/>
<line x1="546" y1="795" x2="556" y2="795" stroke="#c0c0c0" stroke-width="1"/>
<line x1="575.4" y1="795" x2="585.4" y2="795" stroke="#c0c0c0" stroke-width="1"/>
<line x1="561.3" y1="806" x2="571.3" y2="806" stroke="#c0c0c0" stroke-width="1"/>
<line x1="588.75" y1="806" x2="598.75" y2="806" stroke="#c0c0c0" stroke-width="1"/>
<path d="M684.2 280 L689 280 L689 488.3 L692 488.3 L686.8 557 L680.8 488.3 L684.2 488.3 Z" fill="#E3E7E9" stroke="#444" stroke-width="0.9"/>
<line x1="686.6" y1="281" x2="686.6" y2="488" stroke="#fff" stroke-width="1.6"/>
<line x1="355" y1="57" x2="355" y2="979.5" stroke="#0a0a0a" stroke-width="3" stroke-dasharray="28 8.4" stroke-dashoffset="15.4"/>
<line x1="349.8" y1="56.6" x2="360.2" y2="56.6" stroke="#0a0a0a" stroke-width="1.8"/>
<line x1="119.7" y1="715.5" x2="353.6" y2="715.5" stroke="#0a0a0a" stroke-width="3" stroke-dasharray="25.4 7.8" stroke-dashoffset="13.1"/>
<line x1="119.7" y1="715.5" x2="165" y2="715.5" stroke="#0a0a0a" stroke-width="3"/>
<line x1="119.9" y1="710.3" x2="119.9" y2="720.7" stroke="#0a0a0a" stroke-width="1.6"/>
<line x1="353.4" y1="710.3" x2="353.4" y2="720.7" stroke="#0a0a0a" stroke-width="1.6"/>
<line x1="121" y1="1008.5" x2="340" y2="1008.5" stroke="#0a0a0a" stroke-width="3" stroke-dasharray="24.6 7.8" stroke-dashoffset="12.2"/>
<line x1="121.2" y1="1003.3" x2="121.2" y2="1013.7" stroke="#0a0a0a" stroke-width="1.6"/>
<line x1="711.7" y1="93.1" x2="711.7" y2="290" stroke="#0a0a0a" stroke-width="2.9" stroke-dasharray="24.8 7.6" stroke-dashoffset="12.9"/>
<line x1="706.6" y1="92.6" x2="717" y2="92.6" stroke="#0a0a0a" stroke-width="1.8"/>
<line x1="711.8" y1="290.2" x2="1071" y2="290.2" stroke="#0a0a0a" stroke-width="3" stroke-dasharray="27.6 8.5" stroke-dashoffset="15.2"/>
<line x1="1070.8" y1="284.9" x2="1070.8" y2="295.3" stroke="#0a0a0a" stroke-width="1.6"/>
<line x1="711.8" y1="286.1" x2="711.8" y2="294.1" stroke="#0a0a0a" stroke-width="1.2"/>
<line x1="707.8" y1="290.1" x2="715.8" y2="290.1" stroke="#0a0a0a" stroke-width="1.2"/>
<line x1="335.6" y1="778.75" x2="335.6" y2="807.5" stroke="#111" stroke-width="1.8"/>
<line x1="330.6" y1="778.75" x2="340.6" y2="778.75" stroke="#111" stroke-width="2"/>
<line x1="332.3" y1="784.5" x2="338.9" y2="784.5" stroke="#111" stroke-width="1.3"/>
<line x1="332.3" y1="790.25" x2="338.9" y2="790.25" stroke="#111" stroke-width="1.3"/>
<line x1="332.3" y1="796" x2="338.9" y2="796" stroke="#111" stroke-width="1.3"/>
<line x1="332.3" y1="801.75" x2="338.9" y2="801.75" stroke="#111" stroke-width="1.3"/>
<line x1="330.6" y1="807.5" x2="340.6" y2="807.5" stroke="#111" stroke-width="2"/>
<line x1="335.6" y1="814.5" x2="335.6" y2="843.8" stroke="#111" stroke-width="1.8"/>
<line x1="330.6" y1="814.5" x2="340.6" y2="814.5" stroke="#111" stroke-width="2"/>
<line x1="332.3" y1="820.36" x2="338.9" y2="820.36" stroke="#111" stroke-width="1.3"/>
<line x1="332.3" y1="826.22" x2="338.9" y2="826.22" stroke="#111" stroke-width="1.3"/>
<line x1="332.3" y1="832.08" x2="338.9" y2="832.08" stroke="#111" stroke-width="1.3"/>
<line x1="332.3" y1="837.94" x2="338.9" y2="837.94" stroke="#111" stroke-width="1.3"/>
<line x1="330.6" y1="843.8" x2="340.6" y2="843.8" stroke="#111" stroke-width="2"/>
<line x1="335.6" y1="848" x2="335.6" y2="877.3" stroke="#111" stroke-width="1.8"/>
<line x1="330.6" y1="848" x2="340.6" y2="848" stroke="#111" stroke-width="2"/>
<line x1="332.3" y1="853.86" x2="338.9" y2="853.86" stroke="#111" stroke-width="1.3"/>
<line x1="332.3" y1="859.72" x2="338.9" y2="859.72" stroke="#111" stroke-width="1.3"/>
<line x1="332.3" y1="865.58" x2="338.9" y2="865.58" stroke="#111" stroke-width="1.3"/>
<line x1="332.3" y1="871.44" x2="338.9" y2="871.44" stroke="#111" stroke-width="1.3"/>
<line x1="330.6" y1="877.3" x2="340.6" y2="877.3" stroke="#111" stroke-width="2"/>
<line x1="335.6" y1="883.9" x2="335.6" y2="913.2" stroke="#111" stroke-width="1.8"/>
<line x1="330.6" y1="883.9" x2="340.6" y2="883.9" stroke="#111" stroke-width="2"/>
<line x1="332.3" y1="889.76" x2="338.9" y2="889.76" stroke="#111" stroke-width="1.3"/>
<line x1="332.3" y1="895.62" x2="338.9" y2="895.62" stroke="#111" stroke-width="1.3"/>
<line x1="332.3" y1="901.48" x2="338.9" y2="901.48" stroke="#111" stroke-width="1.3"/>
<line x1="332.3" y1="907.34" x2="338.9" y2="907.34" stroke="#111" stroke-width="1.3"/>
<line x1="330.6" y1="913.2" x2="340.6" y2="913.2" stroke="#111" stroke-width="2"/>
<line x1="335.6" y1="920.7" x2="335.6" y2="949.5" stroke="#111" stroke-width="1.8"/>
<line x1="330.6" y1="920.7" x2="340.6" y2="920.7" stroke="#111" stroke-width="2"/>
<line x1="332.3" y1="926.46" x2="338.9" y2="926.46" stroke="#111" stroke-width="1.3"/>
<line x1="332.3" y1="932.22" x2="338.9" y2="932.22" stroke="#111" stroke-width="1.3"/>
<line x1="332.3" y1="937.98" x2="338.9" y2="937.98" stroke="#111" stroke-width="1.3"/>
<line x1="332.3" y1="943.74" x2="338.9" y2="943.74" stroke="#111" stroke-width="1.3"/>
<line x1="330.6" y1="949.5" x2="340.6" y2="949.5" stroke="#111" stroke-width="2"/>
<line x1="349.8" y1="152" x2="142.7" y2="152" stroke="#F7256B" stroke-width="2.5" stroke-dasharray="26 9" stroke-dashoffset="12.5"/>
<line x1="349.8" y1="147.2" x2="349.8" y2="156.8" stroke="#F7256B" stroke-width="1.38"/>
<line x1="142.7" y1="147.2" x2="142.7" y2="156.8" stroke="#F7256B" stroke-width="1.38"/>
<line x1="142.7" y1="152" x2="187" y2="152" stroke="#F7256B" stroke-width="2.5"/>
<line x1="361.2" y1="114.6" x2="361.2" y2="225.4" stroke="#F7256B" stroke-width="2.4" stroke-dasharray="28 9" stroke-dashoffset="15"/>
<line x1="356.4" y1="114.6" x2="366" y2="114.6" stroke="#F7256B" stroke-width="1.32"/>
<line x1="356.4" y1="225.4" x2="366" y2="225.4" stroke="#F7256B" stroke-width="1.32"/>
<line x1="360" y1="296" x2="360" y2="412.4" stroke="#F7256B" stroke-width="2.4" stroke-dasharray="28 8.4" stroke-dashoffset="0"/>
<line x1="355.2" y1="296" x2="364.8" y2="296" stroke="#F7256B" stroke-width="1.32"/>
<line x1="355.2" y1="412.4" x2="364.8" y2="412.4" stroke="#F7256B" stroke-width="1.32"/>
<line x1="360.6" y1="782.5" x2="360.6" y2="982" stroke="#F7256B" stroke-width="2.4" stroke-dasharray="28.5 8.6" stroke-dashoffset="14.1"/>
<rect x="408" y="155.6" width="167" height="29.4" fill="none" stroke="#F7256B" stroke-width="2.6" stroke-dasharray="25 9" stroke-dashoffset="-4"/>
<path d="M403 155.6 h10 M408 150.6 v10" stroke="#F7256B" stroke-width="1" fill="none"/>
<path d="M403 185 h10 M408 180 v10" stroke="#F7256B" stroke-width="1" fill="none"/>
<path d="M570 155.6 h10 M575 150.6 v10" stroke="#F7256B" stroke-width="1" fill="none"/>
<path d="M570 185 h10 M575 180 v10" stroke="#F7256B" stroke-width="1" fill="none"/>
<rect x="408" y="308.3" width="167" height="29.7" fill="none" stroke="#F7256B" stroke-width="2.6" stroke-dasharray="25 9" stroke-dashoffset="-4"/>
<path d="M403 308.3 h10 M408 303.3 v10" stroke="#F7256B" stroke-width="1" fill="none"/>
<path d="M403 338 h10 M408 333 v10" stroke="#F7256B" stroke-width="1" fill="none"/>
<path d="M570 308.3 h10 M575 303.3 v10" stroke="#F7256B" stroke-width="1" fill="none"/>
<path d="M570 338 h10 M575 333 v10" stroke="#F7256B" stroke-width="1" fill="none"/>
<line x1="1005.4" y1="603" x2="1005.4" y2="880.6" stroke="#F7256B" stroke-width="3" stroke-dasharray="27 7.9" stroke-dashoffset="14.2"/>
<line x1="1005" y1="603" x2="1011" y2="603" stroke="#F7256B" stroke-width="1"/>
<line x1="1010.7" y1="881.8" x2="1037.9" y2="881.8" stroke="#F7256B" stroke-width="2.6" stroke-dasharray="11 8 8.2 50" stroke-dashoffset="0"/>
<line x1="1010.7" y1="877.2" x2="1010.7" y2="886.4" stroke="#F7256B" stroke-width="1.43"/>
<line x1="1037.9" y1="877.2" x2="1037.9" y2="886.4" stroke="#F7256B" stroke-width="1.43"/>
<line x1="1003" y1="881" x2="1009" y2="881" stroke="#F7256B" stroke-width="1"/>
<line x1="384.8" y1="432.2" x2="578.4" y2="432.2" stroke="#07A8F0" stroke-width="3" stroke-dasharray="25 7.8" stroke-dashoffset="12.4"/>
<line x1="384.8" y1="426.6" x2="384.8" y2="437.8" stroke="#07A8F0" stroke-width="1.65"/>
<line x1="578.4" y1="432.2" x2="578.4" y2="517.7" stroke="#07A8F0" stroke-width="3" stroke-dasharray="25 7.8" stroke-dashoffset="12"/>
<line x1="573.8" y1="517.7" x2="583" y2="517.7" stroke="#07A8F0" stroke-width="1.65"/>
<line x1="389" y1="661.9" x2="583.1" y2="661.9" stroke="#07A8F0" stroke-width="3" stroke-dasharray="25 7.8" stroke-dashoffset="12.2"/>
<line x1="389" y1="656.3" x2="389" y2="667.5" stroke="#07A8F0" stroke-width="1.65"/>
<line x1="583.1" y1="656.3" x2="583.1" y2="667.5" stroke="#07A8F0" stroke-width="1.65"/>
<line x1="802.8" y1="293.5" x2="802.8" y2="543.4" stroke="#07A8F0" stroke-width="3" stroke-dasharray="27 9.4" stroke-dashoffset="14.2"/>
<line x1="798" y1="293.5" x2="807.6" y2="293.5" stroke="#07A8F0" stroke-width="1.65"/>
<line x1="798" y1="543.4" x2="807.6" y2="543.4" stroke="#07A8F0" stroke-width="1.65"/>
<line x1="892.3" y1="602.5" x2="1002.7" y2="602.5" stroke="#07A8F0" stroke-width="3" stroke-dasharray="27 9" stroke-dashoffset="13"/>
<line x1="892.3" y1="597.7" x2="892.3" y2="607.3" stroke="#07A8F0" stroke-width="1.65"/>
<line x1="1002.7" y1="597.7" x2="1002.7" y2="607.3" stroke="#07A8F0" stroke-width="1.65"/>
<line x1="894.9" y1="715" x2="1005.2" y2="715" stroke="#07A8F0" stroke-width="3" stroke-dasharray="27 9" stroke-dashoffset="13"/>
<line x1="894.9" y1="710.2" x2="894.9" y2="719.8" stroke="#07A8F0" stroke-width="1.65"/>
<line x1="1005.2" y1="710.2" x2="1005.2" y2="719.8" stroke="#07A8F0" stroke-width="1.65"/>
<line x1="891" y1="881.8" x2="1001.8" y2="881.8" stroke="#07A8F0" stroke-width="3" stroke-dasharray="14 8.1 28.8 8.1 28.1 8.8 14.4 50" stroke-dashoffset="0"/>
<line x1="891" y1="877" x2="891" y2="886.6" stroke="#07A8F0" stroke-width="1.65"/>
<line x1="1001.8" y1="877" x2="1001.8" y2="886.6" stroke="#07A8F0" stroke-width="1.65"/>
<line x1="360" y1="780.6" x2="415" y2="780.6" stroke="#07A8F0" stroke-width="3" stroke-dasharray="20 6.9 11.2 5.65 11.25 50" stroke-dashoffset="0"/>
<line x1="360" y1="775.6" x2="360" y2="785.6" stroke="#07A8F0" stroke-width="1.65"/>
<line x1="415" y1="775.6" x2="415" y2="785.6" stroke="#07A8F0" stroke-width="1.65"/>
<line x1="361.9" y1="834" x2="417.5" y2="834" stroke="#07A8F0" stroke-width="3" stroke-dasharray="10.6 5.5 19.5 7.5 12.5 50" stroke-dashoffset="0"/>
<line x1="361.9" y1="829" x2="361.9" y2="839" stroke="#07A8F0" stroke-width="1.65"/>
<line x1="417.5" y1="829" x2="417.5" y2="839" stroke="#07A8F0" stroke-width="1.65"/>
<line x1="366" y1="1005" x2="420.7" y2="1005" stroke="#07A8F0" stroke-width="3.1" stroke-dasharray="10.2 6.3 21.3 6.4 10.5 50" stroke-dashoffset="0"/>
<line x1="420.7" y1="999.6" x2="420.7" y2="1010.4" stroke="#07A8F0" stroke-width="1.71"/>
<line x1="352.6" y1="1021.9" x2="352.6" y2="1060.5" stroke="#07A8F0" stroke-width="3" stroke-dasharray="22 5.6" stroke-dashoffset="0"/>
<line x1="346.8" y1="1060.5" x2="358.4" y2="1060.5" stroke="#07A8F0" stroke-width="1.65"/>
<line x1="899" y1="301.3" x2="1009.4" y2="301.3" stroke="#7B68EE" stroke-width="2.5" stroke-dasharray="21 7.4" stroke-dashoffset="12"/>
<line x1="899" y1="296.7" x2="899" y2="305.9" stroke="#7B68EE" stroke-width="1.38"/>
<line x1="1009.4" y1="296.7" x2="1009.4" y2="305.9" stroke="#7B68EE" stroke-width="1.38"/>
<line x1="198.6" y1="1012" x2="310.4" y2="1012" stroke="#7B68EE" stroke-width="2.5" stroke-dasharray="21 7.4" stroke-dashoffset="12"/>
<line x1="198.6" y1="1007.6" x2="198.6" y2="1016.4" stroke="#7B68EE" stroke-width="1.38"/>
<line x1="310.4" y1="1007.6" x2="310.4" y2="1016.4" stroke="#7B68EE" stroke-width="1.38"/>
<rect x="160" y="76.6" width="8" height="11.4" rx="3.6" fill="#fff" stroke="#555" stroke-width="0.75"/>
<rect x="177.5" y="76.6" width="8" height="11.4" rx="3.6" fill="#fff" stroke="#555" stroke-width="0.75"/>
<rect x="207" y="76.6" width="8" height="11.4" rx="3.6" fill="#fff" stroke="#555" stroke-width="0.75"/>
<rect x="224" y="76.6" width="8" height="11.4" rx="3.6" fill="#fff" stroke="#555" stroke-width="0.75"/>
<rect x="151" y="85" width="45" height="14" rx="0.8" fill="#F62569" stroke="#3b0d1c" stroke-width="0.8"/>
<rect x="197.1" y="85" width="45" height="14" rx="0.8" fill="#F62569" stroke="#3b0d1c" stroke-width="0.8"/>
<rect x="142.2" y="158" width="13" height="14" fill="#733D43" stroke="#222" stroke-width="0.9"/>
<rect x="144.2" y="160" width="9" height="10" fill="#9a4a55" opacity="0.55"/>
<path d="M145.2 161 l7 8 M145.2 165 l4 4 M148.2 161 l4 4" stroke="#5d2c33" stroke-width="0.8" opacity="0.7"/>
<rect x="189" y="158" width="13" height="14" fill="#733D43" stroke="#222" stroke-width="0.9"/>
<rect x="191" y="160" width="9" height="10" fill="#9a4a55" opacity="0.55"/>
<path d="M192 161 l7 8 M192 165 l4 4 M195 161 l4 4" stroke="#5d2c33" stroke-width="0.8" opacity="0.7"/>
<rect x="234" y="158" width="13" height="14" fill="#733D43" stroke="#222" stroke-width="0.9"/>
<rect x="236" y="160" width="9" height="10" fill="#9a4a55" opacity="0.55"/>
<path d="M237 161 l7 8 M237 165 l4 4 M240 161 l4 4" stroke="#5d2c33" stroke-width="0.8" opacity="0.7"/>
<rect x="279" y="158" width="13" height="14" fill="#733D43" stroke="#222" stroke-width="0.9"/>
<rect x="281" y="160" width="9" height="10" fill="#9a4a55" opacity="0.55"/>
<path d="M282 161 l7 8 M282 165 l4 4 M285 161 l4 4" stroke="#5d2c33" stroke-width="0.8" opacity="0.7"/>
<rect x="159.6" y="155.6" width="27.6" height="13.2" rx="2.2" fill="#000"/>
<rect x="204.4" y="155.6" width="27.8" height="13.2" rx="2.2" fill="#000"/>
<rect x="248.7" y="155.6" width="27.6" height="13.2" rx="2.2" fill="#000"/>
<rect x="142" y="181" width="14" height="28" rx="2.2" fill="#000" transform="rotate(2 149 195)"/>
<rect x="211.6" y="188.4" width="14" height="27.2" rx="2.2" fill="#000" transform="rotate(-3 218.6 202)"/>
<rect x="228" y="187.6" width="14.5" height="28" rx="2.2" fill="#000" transform="rotate(3 235.25 201.6)"/>
<rect x="282.8" y="176.6" width="14.1" height="28.7" rx="2.2" fill="#000" transform="rotate(-1 289.85 190.95)"/>
<rect x="166.6" y="184" width="13.2" height="14" rx="0.8" fill="#F62569" stroke="#222" stroke-width="0.8"/>
<rect x="189" y="184" width="13.2" height="14" rx="0.8" fill="#10ADF2" stroke="#222" stroke-width="0.8"/>
<rect x="245.3" y="184" width="13.2" height="14" rx="0.8" fill="#F62569" stroke="#222" stroke-width="0.8"/>
<rect x="260.7" y="184" width="13.2" height="14" rx="0.8" fill="#10ADF2" stroke="#222" stroke-width="0.8"/>
<rect x="166.6" y="204.8" width="13.2" height="14" rx="0.8" fill="#10ADF2" stroke="#222" stroke-width="0.8"/>
<rect x="189" y="204.8" width="13.2" height="14" rx="0.8" fill="#F62569" stroke="#222" stroke-width="0.8"/>
<rect x="245.3" y="204.8" width="13.2" height="14" rx="0.8" fill="#10ADF2" stroke="#222" stroke-width="0.8"/>
<rect x="260.7" y="204.8" width="13.2" height="14" rx="0.8" fill="#F62569" stroke="#222" stroke-width="0.8"/>
<rect x="142" y="214" width="13.2" height="14" rx="0.8" fill="#F62569" stroke="#222" stroke-width="0.8"/>
<rect x="283.4" y="213.4" width="13.2" height="14" rx="0.8" fill="#10ADF2" stroke="#222" stroke-width="0.8"/>
<use href="#rt8" x="167.8" y="263.1"/>
<use href="#rt8" x="223.4" y="263.1"/>
<use href="#rt8" x="279.2" y="263.1"/>
<use href="#rt8" x="233.1" y="316.4"/>
<use href="#rt8" x="296.7" y="316.4"/>
<use href="#rt8" x="218.4" y="398.4"/>
<use href="#rt8" x="273.3" y="398.4"/>
<use href="#rt8" x="195.4" y="448.9"/>
<use href="#rt8" x="251.2" y="448.9"/>
<use href="#rt8" x="302.6" y="443.9"/>
<use href="#rt8" x="167.7" y="505.2"/>
<use href="#rt8" x="223.4" y="505.2"/>
<use href="#rt8" x="278.8" y="505.2"/>
<use href="#rt8" x="195.4" y="560.5"/>
<use href="#rt8" x="251.2" y="560.5"/>
<use href="#rt8" x="308.1" y="560.5"/>
<use href="#rt8" x="167.7" y="616.7"/>
<use href="#rt8" x="223.4" y="616.7"/>
<use href="#rt8" x="278.8" y="616.7"/>
<rect x="138.1" y="296" width="55.5" height="55.5" fill="#10ADF2" stroke="#1b5f86" stroke-width="0.8"/>
<text x="166" y="327" font-size="12.5" fill="#111" font-weight="normal" text-anchor="middle" textLength="51" lengthAdjust="spacingAndGlyphs" stroke="#111" stroke-width="0.34" stroke-linejoin="round">Catering</text>
<rect x="136.6" y="354.9" width="13.6" height="44.6" rx="0.8" fill="#F62569" stroke="#3b0d1c" stroke-width="0.8"/>
<rect x="135.9" y="400.2" width="13.6" height="44.4" rx="0.8" fill="#F62569" stroke="#3b0d1c" stroke-width="0.8"/>
<text x="147.8" y="398.6" font-size="12" fill="#8e1b40" font-weight="normal" text-anchor="start" textLength="22.4" lengthAdjust="spacingAndGlyphs" transform="rotate(-90 147.8 398.6)">Tea</text>
<text x="147.2" y="443.7" font-size="12" fill="#8e1b40" font-weight="normal" text-anchor="start" textLength="43.4" lengthAdjust="spacingAndGlyphs" transform="rotate(-90 147.2 443.7)">Coffee</text>
<text x="122" y="421" font-size="24.5" fill="#EE1111" font-weight="bold" text-anchor="middle" textLength="138" lengthAdjust="spacingAndGlyphs" transform="rotate(-90 122 421)">VIP LOUNGE</text>
<rect x="146.2" y="663" width="44.5" height="13.8" rx="0.8" fill="#F62569" stroke="#3b0d1c" stroke-width="0.8"/>
<rect x="194.2" y="663" width="45" height="13.8" rx="0.8" fill="#F62569" stroke="#3b0d1c" stroke-width="0.8"/>
<rect x="245" y="664" width="44.6" height="14.2" rx="0.8" fill="#F62569" stroke="#3b0d1c" stroke-width="0.8"/>
<rect x="289.8" y="665.8" width="13.9" height="44" rx="0.8" fill="#F62569" stroke="#3b0d1c" stroke-width="0.8"/>
<rect x="126.25" y="727.4" width="45.2" height="13.8" rx="0.8" fill="#F62569" stroke="#3b0d1c" stroke-width="0.8"/>
<rect x="176.2" y="727.4" width="45" height="13.8" rx="0.8" fill="#F62569" stroke="#3b0d1c" stroke-width="0.8"/>
<rect x="228.9" y="727.4" width="44.5" height="13.8" rx="0.8" fill="#F62569" stroke="#3b0d1c" stroke-width="0.8"/>
<rect x="137.3" y="841.7" width="44.5" height="14.1" rx="0.8" fill="#F62569" stroke="#3b0d1c" stroke-width="0.8"/>
<rect x="188.4" y="841.7" width="45" height="14.1" rx="0.8" fill="#F62569" stroke="#3b0d1c" stroke-width="0.8"/>
<rect x="142" y="859.3" width="14.4" height="45" rx="0.8" fill="#F62569" stroke="#3b0d1c" stroke-width="0.8" transform="rotate(1.2 149.2 881.8)"/>
<rect x="143.4" y="908.3" width="44.5" height="13.8" rx="0.8" fill="#F62569" stroke="#3b0d1c" stroke-width="0.8"/>
<rect x="194.2" y="908" width="45" height="14" rx="0.8" fill="#F62569" stroke="#3b0d1c" stroke-width="0.8"/>
<rect x="132.7" y="990.2" width="44.8" height="13.4" rx="0.8" fill="#F62569" stroke="#3b0d1c" stroke-width="0.8"/>
<rect x="181" y="990.2" width="44.3" height="13.4" rx="0.8" fill="#F62569" stroke="#3b0d1c" stroke-width="0.8"/>
<rect x="229.5" y="990.2" width="44.5" height="13.4" rx="0.8" fill="#F62569" stroke="#3b0d1c" stroke-width="0.8"/>
<rect x="286.25" y="990.2" width="44.5" height="13.4" rx="0.8" fill="#F62569" stroke="#3b0d1c" stroke-width="0.8"/>
<rect x="157.85" y="1033" width="11.4" height="8" rx="3.6" fill="#fff" stroke="#555" stroke-width="0.75"/>
<rect x="157.85" y="1046.7" width="11.4" height="8" rx="3.6" fill="#fff" stroke="#555" stroke-width="0.75"/>
<rect x="166.25" y="1027" width="14" height="33.5" rx="0.8" fill="#10ADF2" stroke="#1c1c1c" stroke-width="0.8"/>
<text x="173.3" y="1047" font-size="13" fill="#000" font-weight="normal" text-anchor="middle" textLength="17" lengthAdjust="spacingAndGlyphs" stroke="#000" stroke-width="0.3" stroke-linejoin="round">AV</text>
<rect x="189.7" y="1021.9" width="33.5" height="44.5" rx="1" fill="#E5E9EB" stroke="#777" stroke-width="1"/>
<path d="M193.95 1040.6 h25 v3.6 l-3 3.2 h-19 l-3 -3.2 z" fill="#6b6b6b"/>
<path d="M193.95 1041.2 h25" stroke="#9a9a9a" stroke-width="0.8"/>
<rect x="223.2" y="1021.9" width="33.8" height="44.5" rx="1" fill="#E5E9EB" stroke="#777" stroke-width="1"/>
<path d="M227.6 1040.6 h25 v3.6 l-3 3.2 h-19 l-3 -3.2 z" fill="#6b6b6b"/>
<path d="M227.6 1041.2 h25" stroke="#9a9a9a" stroke-width="0.8"/>
<rect x="257" y="1021.9" width="33.5" height="44.5" rx="1" fill="#E5E9EB" stroke="#777" stroke-width="1"/>
<path d="M261.25 1040.6 h25 v3.6 l-3 3.2 h-19 l-3 -3.2 z" fill="#6b6b6b"/>
<path d="M261.25 1041.2 h25" stroke="#9a9a9a" stroke-width="0.8"/>
<rect x="290.5" y="1021.9" width="34.5" height="44.5" rx="1" fill="#E5E9EB" stroke="#777" stroke-width="1"/>
<path d="M295.25 1040.6 h25 v3.6 l-3 3.2 h-19 l-3 -3.2 z" fill="#6b6b6b"/>
<path d="M295.25 1041.2 h25" stroke="#9a9a9a" stroke-width="0.8"/>
<rect x="325.6" y="1048" width="6" height="16.5" fill="#bdbdbd" stroke="#555" stroke-width="0.8"/>
<text x="252.7" y="1022.6" font-size="14.5" fill="#7B68EE" font-weight="normal" text-anchor="middle" textLength="91" lengthAdjust="spacingAndGlyphs">step &amp; repeat</text>
<rect x="218.5" y="1067.4" width="8" height="11.4" rx="3.6" fill="#fff" stroke="#555" stroke-width="0.75"/>
<rect x="231.4" y="1067.4" width="8" height="11.4" rx="3.6" fill="#fff" stroke="#555" stroke-width="0.75"/>
<rect x="244.3" y="1067.4" width="8" height="11.4" rx="3.6" fill="#fff" stroke="#555" stroke-width="0.75"/>
<rect x="271.2" y="1067.4" width="8" height="11.4" rx="3.6" fill="#fff" stroke="#555" stroke-width="0.75"/>
<rect x="284.1" y="1067.4" width="8" height="11.4" rx="3.6" fill="#fff" stroke="#555" stroke-width="0.75"/>
<rect x="297.5" y="1067.4" width="8" height="11.4" rx="3.6" fill="#fff" stroke="#555" stroke-width="0.75"/>
<rect x="213.1" y="1075.8" width="44.6" height="14" rx="0.8" fill="#F62569" stroke="#3b0d1c" stroke-width="0.8"/>
<rect x="265.9" y="1075.8" width="44.5" height="14" rx="0.8" fill="#F62569" stroke="#3b0d1c" stroke-width="0.8"/>
<path d="M129.5 1082.1 L189.7 1069.9 L169.6 1113 L165.6 1114 Z" fill="#F6F7F7" stroke="#333" stroke-width="0.9"/>
<rect x="160.6" y="1114.6" width="14.4" height="4" fill="#eee" stroke="#222" stroke-width="0.9" transform="rotate(-14 167.6 1116.8)"/>
<rect x="166" y="1114.8" width="3.2" height="3.8" fill="#111" transform="rotate(-14 167.6 1116.8)"/>
<use href="#spk" x="128.2" y="1102.2"/>
<use href="#spk" x="335.5" y="1106.2"/>
<use href="#spk" x="335.2" y="1372"/>
<use href="#spk" x="134.6" y="1384.2"/>
<use href="#spk" x="803.6" y="337.4"/>
<use href="#spk" x="1029.6" y="328.2"/>
<rect x="369.4" y="1011.7" width="13.2" height="7.2" rx="1.2" fill="#02FB02"/>
<rect x="369.4" y="1021.8" width="13.2" height="7.2" rx="1.2" fill="#02FB02"/>
<rect x="369.4" y="1031.9" width="13.2" height="7.2" rx="1.2" fill="#02FB02"/>
<rect x="369.4" y="1042" width="13.2" height="7.2" rx="1.2" fill="#02FB02"/>
<rect x="369.4" y="1052.1" width="13.2" height="7.2" rx="1.2" fill="#02FB02"/>
<rect x="369.4" y="1062.2" width="13.2" height="7.2" rx="1.2" fill="#02FB02"/>
<rect x="369.4" y="1072.3" width="13.2" height="7.2" rx="1.2" fill="#02FB02"/>
<rect x="369.4" y="1082.4" width="13.2" height="7.2" rx="1.2" fill="#02FB02"/>
<rect x="562.2" y="1011.7" width="13.2" height="7.2" rx="1.2" fill="#02FB02"/>
<rect x="562.2" y="1021.7" width="13.2" height="7.2" rx="1.2" fill="#02FB02"/>
<rect x="562.2" y="1031.7" width="13.2" height="7.2" rx="1.2" fill="#02FB02"/>
<rect x="562.2" y="1041.7" width="13.2" height="7.2" rx="1.2" fill="#02FB02"/>
<rect x="562.2" y="1051.7" width="13.2" height="7.2" rx="1.2" fill="#02FB02"/>
<rect x="562.2" y="1061.7" width="13.2" height="7.2" rx="1.2" fill="#02FB02"/>
<rect x="562.2" y="1071.7" width="13.2" height="7.2" rx="1.2" fill="#02FB02"/>
<rect x="562.2" y="1081.7" width="13.2" height="7.2" rx="1.2" fill="#02FB02"/>
<rect x="373" y="1167.7" width="13.2" height="7.2" rx="1.2" fill="#02FB02"/>
<rect x="373" y="1177.38" width="13.2" height="7.2" rx="1.2" fill="#02FB02"/>
<rect x="373" y="1187.06" width="13.2" height="7.2" rx="1.2" fill="#02FB02"/>
<rect x="373" y="1196.74" width="13.2" height="7.2" rx="1.2" fill="#02FB02"/>
<rect x="373" y="1206.42" width="13.2" height="7.2" rx="1.2" fill="#02FB02"/>
<rect x="373" y="1216.1" width="13.2" height="7.2" rx="1.2" fill="#02FB02"/>
<rect x="373" y="1225.78" width="13.2" height="7.2" rx="1.2" fill="#02FB02"/>
<rect x="373" y="1235.46" width="13.2" height="7.2" rx="1.2" fill="#02FB02"/>
<rect x="565.8" y="1167.2" width="13.2" height="7.2" rx="1.2" fill="#02FB02"/>
<rect x="565.8" y="1176.98" width="13.2" height="7.2" rx="1.2" fill="#02FB02"/>
<rect x="565.8" y="1186.76" width="13.2" height="7.2" rx="1.2" fill="#02FB02"/>
<rect x="565.8" y="1196.54" width="13.2" height="7.2" rx="1.2" fill="#02FB02"/>
<rect x="565.8" y="1206.32" width="13.2" height="7.2" rx="1.2" fill="#02FB02"/>
<rect x="565.8" y="1216.1" width="13.2" height="7.2" rx="1.2" fill="#02FB02"/>
<rect x="565.8" y="1225.88" width="13.2" height="7.2" rx="1.2" fill="#02FB02"/>
<rect x="565.8" y="1235.66" width="13.2" height="7.2" rx="1.2" fill="#02FB02"/>
<use href="#rt10" x="173.9" y="1147.5"/>
<use href="#rt10" x="234.8" y="1147.5"/>
<use href="#rt10" x="296.25" y="1147.5"/>
<use href="#rt10" x="204.4" y="1203.3"/>
<use href="#rt10" x="265.8" y="1203.3"/>
<use href="#rt10" x="326.7" y="1203.3"/>
<use href="#rt10" x="173.9" y="1259.3"/>
<use href="#rt10" x="234.8" y="1259.3"/>
<use href="#rt10" x="296.25" y="1259.3"/>
<use href="#rt10" x="204.4" y="1314.6"/>
<use href="#rt10" x="265.8" y="1314.6"/>
<use href="#rt10" x="326.7" y="1314.6"/>
<use href="#rt10" x="173.9" y="1370.6"/>
<use href="#rt10" x="234.8" y="1370.6"/>
<use href="#rt10" x="296.25" y="1370.6"/>
<rect x="384.7" y="797.25" width="11.4" height="8" rx="3.6" fill="#fff" stroke="#555" stroke-width="0.75"/>
<rect x="384.7" y="811.6" width="11.4" height="8" rx="3.6" fill="#fff" stroke="#555" stroke-width="0.75"/>
<rect x="393.1" y="791.6" width="14" height="33.6" rx="0.8" fill="#10ADF2" stroke="#1c1c1c" stroke-width="0.8"/>
<rect x="394.8" y="803.5" width="9.8" height="10.6" fill="#FCE068" stroke="#444" stroke-width="0.8"/>
<circle cx="399.7" cy="808.8" r="1.6" fill="#F7D21E"/>
<rect x="365.6" y="837.75" width="45" height="13.75" rx="0.8" fill="#F62569" stroke="#3b0d1c" stroke-width="0.8"/>
<rect x="385.1" y="872.25" width="11.4" height="8" rx="3.6" fill="#fff" stroke="#555" stroke-width="0.75"/>
<rect x="385.1" y="885.1" width="11.4" height="8" rx="3.6" fill="#fff" stroke="#555" stroke-width="0.75"/>
<rect x="385.1" y="898.25" width="11.4" height="8" rx="3.6" fill="#fff" stroke="#555" stroke-width="0.75"/>
<rect x="404.5" y="872.25" width="11.4" height="8" rx="3.6" fill="#fff" stroke="#555" stroke-width="0.75"/>
<rect x="404.5" y="885.1" width="11.4" height="8" rx="3.6" fill="#fff" stroke="#555" stroke-width="0.75"/>
<rect x="404.5" y="898.25" width="11.4" height="8" rx="3.6" fill="#fff" stroke="#555" stroke-width="0.75"/>
<rect x="385.1" y="918.5" width="11.4" height="8" rx="3.6" fill="#fff" stroke="#555" stroke-width="0.75"/>
<rect x="385.1" y="932" width="11.4" height="8" rx="3.6" fill="#fff" stroke="#555" stroke-width="0.75"/>
<rect x="385.1" y="945.1" width="11.4" height="8" rx="3.6" fill="#fff" stroke="#555" stroke-width="0.75"/>
<rect x="385.1" y="964.75" width="11.4" height="8" rx="3.6" fill="#fff" stroke="#555" stroke-width="0.75"/>
<rect x="385.1" y="977.9" width="11.4" height="8" rx="3.6" fill="#fff" stroke="#555" stroke-width="0.75"/>
<rect x="385.1" y="991" width="11.4" height="8" rx="3.6" fill="#fff" stroke="#555" stroke-width="0.75"/>
<rect x="393.5" y="866.6" width="14" height="44.6" rx="0.8" fill="#F62569" stroke="#3b0d1c" stroke-width="0.8"/>
<rect x="393.5" y="913.4" width="14" height="43.9" rx="0.8" fill="#F62569" stroke="#3b0d1c" stroke-width="0.8"/>
<rect x="393.5" y="959.6" width="14" height="44.2" rx="0.8" fill="#F62569" stroke="#3b0d1c" stroke-width="0.8"/>
<rect x="396" y="930.4" width="10.2" height="10.2" fill="#FCE068" stroke="#444" stroke-width="0.8"/>
<circle cx="401.1" cy="935.5" r="1.6" fill="#F7D21E"/>
<text x="437.6" y="810.5" font-size="13.5" fill="#EE1122" font-weight="bold" text-anchor="middle" textLength="43.5" lengthAdjust="spacingAndGlyphs" transform="rotate(-90 437.6 810.5)">Brunch</text>
<text x="455.8" y="800" font-size="13.5" fill="#EE1122" font-weight="bold" text-anchor="middle" textLength="67" lengthAdjust="spacingAndGlyphs" transform="rotate(-90 455.8 800)">bros 10x10</text>
<text x="420.6" y="954" font-size="13.5" fill="#EE1122" font-weight="bold" text-anchor="middle" textLength="83" lengthAdjust="spacingAndGlyphs" transform="rotate(-90 420.6 954)">Ghostbusters</text>
<text x="437.6" y="977.8" font-size="13.5" fill="#EE1122" font-weight="bold" text-anchor="middle" textLength="34.5" lengthAdjust="spacingAndGlyphs" transform="rotate(-90 437.6 977.8)">10x30</text>
<text x="360.6" y="697" font-size="9" fill="#111" font-weight="normal" text-anchor="middle" textLength="30" lengthAdjust="spacingAndGlyphs" stroke="#111" stroke-width="0.25" stroke-linejoin="round">ENTRY</text>
<text x="360.6" y="753" font-size="11" fill="#111" font-weight="normal" text-anchor="middle" textLength="37" lengthAdjust="spacingAndGlyphs" stroke="#111" stroke-width="0.3" stroke-linejoin="round">load-in</text>
<path d="M360 686 h17 q0 10 -16 17" fill="none" stroke="#6cc8f0" stroke-width="0.6"/>
<path d="M360 742 h17 q0 10 -16 17" fill="none" stroke="#f58aa6" stroke-width="0.6"/>
<rect x="405.4" y="102.7" width="8" height="11.4" rx="3.6" fill="#fff" stroke="#555" stroke-width="0.75"/>
<rect x="418.3" y="102.7" width="8" height="11.4" rx="3.6" fill="#fff" stroke="#555" stroke-width="0.75"/>
<rect x="431.5" y="102.7" width="8" height="11.4" rx="3.6" fill="#fff" stroke="#555" stroke-width="0.75"/>
<rect x="449.9" y="102.7" width="8" height="11.4" rx="3.6" fill="#fff" stroke="#555" stroke-width="0.75"/>
<rect x="462.8" y="102.7" width="8" height="11.4" rx="3.6" fill="#fff" stroke="#555" stroke-width="0.75"/>
<rect x="476" y="102.7" width="8" height="11.4" rx="3.6" fill="#fff" stroke="#555" stroke-width="0.75"/>
<rect x="494.4" y="102.7" width="8" height="11.4" rx="3.6" fill="#fff" stroke="#555" stroke-width="0.75"/>
<rect x="507.3" y="102.7" width="8" height="11.4" rx="3.6" fill="#fff" stroke="#555" stroke-width="0.75"/>
<rect x="520.5" y="102.7" width="8" height="11.4" rx="3.6" fill="#fff" stroke="#555" stroke-width="0.75"/>
<rect x="538.9" y="102.7" width="8" height="11.4" rx="3.6" fill="#fff" stroke="#555" stroke-width="0.75"/>
<rect x="551.8" y="102.7" width="8" height="11.4" rx="3.6" fill="#fff" stroke="#555" stroke-width="0.75"/>
<rect x="565" y="102.7" width="8" height="11.4" rx="3.6" fill="#fff" stroke="#555" stroke-width="0.75"/>
<rect x="583.4" y="102.7" width="8" height="11.4" rx="3.6" fill="#fff" stroke="#555" stroke-width="0.75"/>
<rect x="596.3" y="102.7" width="8" height="11.4" rx="3.6" fill="#fff" stroke="#555" stroke-width="0.75"/>
<rect x="609.5" y="102.7" width="8" height="11.4" rx="3.6" fill="#fff" stroke="#555" stroke-width="0.75"/>
<rect x="400" y="111.1" width="44.5" height="14" rx="0.8" fill="#F62569" stroke="#3b0d1c" stroke-width="0.8"/>
<rect x="444.5" y="111.1" width="44.5" height="14" rx="0.8" fill="#F62569" stroke="#3b0d1c" stroke-width="0.8"/>
<rect x="489" y="111.1" width="44.5" height="14" rx="0.8" fill="#F62569" stroke="#3b0d1c" stroke-width="0.8"/>
<rect x="533.5" y="111.1" width="44.5" height="14" rx="0.8" fill="#F62569" stroke="#3b0d1c" stroke-width="0.8"/>
<rect x="578" y="111.1" width="44.5" height="14" rx="0.8" fill="#F62569" stroke="#3b0d1c" stroke-width="0.8"/>
<rect x="405.4" y="215.8" width="8" height="11.4" rx="3.6" fill="#fff" stroke="#555" stroke-width="0.75"/>
<rect x="418.3" y="215.8" width="8" height="11.4" rx="3.6" fill="#fff" stroke="#555" stroke-width="0.75"/>
<rect x="431.5" y="215.8" width="8" height="11.4" rx="3.6" fill="#fff" stroke="#555" stroke-width="0.75"/>
<rect x="449.9" y="215.8" width="8" height="11.4" rx="3.6" fill="#fff" stroke="#555" stroke-width="0.75"/>
<rect x="462.8" y="215.8" width="8" height="11.4" rx="3.6" fill="#fff" stroke="#555" stroke-width="0.75"/>
<rect x="476" y="215.8" width="8" height="11.4" rx="3.6" fill="#fff" stroke="#555" stroke-width="0.75"/>
<rect x="494.4" y="215.8" width="8" height="11.4" rx="3.6" fill="#fff" stroke="#555" stroke-width="0.75"/>
<rect x="507.3" y="215.8" width="8" height="11.4" rx="3.6" fill="#fff" stroke="#555" stroke-width="0.75"/>
<rect x="520.5" y="215.8" width="8" height="11.4" rx="3.6" fill="#fff" stroke="#555" stroke-width="0.75"/>
<rect x="538.9" y="215.8" width="8" height="11.4" rx="3.6" fill="#fff" stroke="#555" stroke-width="0.75"/>
<rect x="551.8" y="215.8" width="8" height="11.4" rx="3.6" fill="#fff" stroke="#555" stroke-width="0.75"/>
<rect x="565" y="215.8" width="8" height="11.4" rx="3.6" fill="#fff" stroke="#555" stroke-width="0.75"/>
<rect x="583.4" y="215.8" width="8" height="11.4" rx="3.6" fill="#fff" stroke="#555" stroke-width="0.75"/>
<rect x="596.3" y="215.8" width="8" height="11.4" rx="3.6" fill="#fff" stroke="#555" stroke-width="0.75"/>
<rect x="609.5" y="215.8" width="8" height="11.4" rx="3.6" fill="#fff" stroke="#555" stroke-width="0.75"/>
<rect x="400" y="204.8" width="44.5" height="14" rx="0.8" fill="#F62569" stroke="#3b0d1c" stroke-width="0.8"/>
<rect x="444.5" y="204.8" width="44.5" height="14" rx="0.8" fill="#F62569" stroke="#3b0d1c" stroke-width="0.8"/>
<rect x="489" y="204.8" width="44.5" height="14" rx="0.8" fill="#F62569" stroke="#3b0d1c" stroke-width="0.8"/>
<rect x="533.5" y="204.8" width="44.5" height="14" rx="0.8" fill="#F62569" stroke="#3b0d1c" stroke-width="0.8"/>
<rect x="578" y="204.8" width="44.5" height="14" rx="0.8" fill="#F62569" stroke="#3b0d1c" stroke-width="0.8"/>
<rect x="634.8" y="121.7" width="11.4" height="8" rx="3.6" fill="#fff" stroke="#555" stroke-width="0.75"/>
<rect x="634.8" y="134.8" width="11.4" height="8" rx="3.6" fill="#fff" stroke="#555" stroke-width="0.75"/>
<rect x="634.8" y="148.1" width="11.4" height="8" rx="3.6" fill="#fff" stroke="#555" stroke-width="0.75"/>
<rect x="634.8" y="166.2" width="11.4" height="8" rx="3.6" fill="#fff" stroke="#555" stroke-width="0.75"/>
<rect x="634.8" y="179.3" width="11.4" height="8" rx="3.6" fill="#fff" stroke="#555" stroke-width="0.75"/>
<rect x="634.8" y="192.6" width="11.4" height="8" rx="3.6" fill="#fff" stroke="#555" stroke-width="0.75"/>
<rect x="623.7" y="116.5" width="14.1" height="44.5" rx="0.8" fill="#F62569" stroke="#3b0d1c" stroke-width="0.8"/>
<rect x="623.7" y="161" width="14.1" height="44.5" rx="0.8" fill="#F62569" stroke="#3b0d1c" stroke-width="0.8"/>
<path d="M453.8 137.6 v4.6 a3.6 3.6 0 0 0 3.6 3.6 h1.17 a3.6 3.6 0 0 0 3.6 -3.6 v-4.6 z" fill="#E5E9EB" stroke="#333" stroke-width="0.9"/>
<path d="M462.17 137.6 v4.6 a3.6 3.6 0 0 0 3.6 3.6 h1.17 a3.6 3.6 0 0 0 3.6 -3.6 v-4.6 z" fill="#E5E9EB" stroke="#333" stroke-width="0.9"/>
<path d="M470.54 137.6 v4.6 a3.6 3.6 0 0 0 3.6 3.6 h1.17 a3.6 3.6 0 0 0 3.6 -3.6 v-4.6 z" fill="#E5E9EB" stroke="#333" stroke-width="0.9"/>
<path d="M478.91 137.6 v4.6 a3.6 3.6 0 0 0 3.6 3.6 h1.17 a3.6 3.6 0 0 0 3.6 -3.6 v-4.6 z" fill="#E5E9EB" stroke="#333" stroke-width="0.9"/>
<path d="M487.28 137.6 v4.6 a3.6 3.6 0 0 0 3.6 3.6 h1.17 a3.6 3.6 0 0 0 3.6 -3.6 v-4.6 z" fill="#E5E9EB" stroke="#333" stroke-width="0.9"/>
<path d="M495.65 137.6 v4.6 a3.6 3.6 0 0 0 3.6 3.6 h1.17 a3.6 3.6 0 0 0 3.6 -3.6 v-4.6 z" fill="#E5E9EB" stroke="#333" stroke-width="0.9"/>
<path d="M504.02 137.6 v4.6 a3.6 3.6 0 0 0 3.6 3.6 h1.17 a3.6 3.6 0 0 0 3.6 -3.6 v-4.6 z" fill="#E5E9EB" stroke="#333" stroke-width="0.9"/>
<path d="M512.39 137.6 v4.6 a3.6 3.6 0 0 0 3.6 3.6 h1.17 a3.6 3.6 0 0 0 3.6 -3.6 v-4.6 z" fill="#E5E9EB" stroke="#333" stroke-width="0.9"/>
<path d="M520.76 137.6 v4.6 a3.6 3.6 0 0 0 3.6 3.6 h1.17 a3.6 3.6 0 0 0 3.6 -3.6 v-4.6 z" fill="#E5E9EB" stroke="#333" stroke-width="0.9"/>
<path d="M529.13 137.6 v4.6 a3.6 3.6 0 0 0 3.6 3.6 h1.17 a3.6 3.6 0 0 0 3.6 -3.6 v-4.6 z" fill="#E5E9EB" stroke="#333" stroke-width="0.9"/>
<rect x="419.4" y="163.3" width="44.5" height="13.5" rx="0.8" fill="#F62569" stroke="#3b0d1c" stroke-width="0.8"/>
<rect x="463.9" y="163.3" width="44.5" height="13.5" rx="0.8" fill="#F62569" stroke="#3b0d1c" stroke-width="0.8"/>
<rect x="508.4" y="163.3" width="44.6" height="13.5" rx="0.8" fill="#F62569" stroke="#3b0d1c" stroke-width="0.8"/>
<rect x="405.4" y="256.1" width="8" height="11.4" rx="3.6" fill="#fff" stroke="#555" stroke-width="0.75"/>
<rect x="418.3" y="256.1" width="8" height="11.4" rx="3.6" fill="#fff" stroke="#555" stroke-width="0.75"/>
<rect x="431.5" y="256.1" width="8" height="11.4" rx="3.6" fill="#fff" stroke="#555" stroke-width="0.75"/>
<rect x="449.9" y="256.1" width="8" height="11.4" rx="3.6" fill="#fff" stroke="#555" stroke-width="0.75"/>
<rect x="462.8" y="256.1" width="8" height="11.4" rx="3.6" fill="#fff" stroke="#555" stroke-width="0.75"/>
<rect x="476" y="256.1" width="8" height="11.4" rx="3.6" fill="#fff" stroke="#555" stroke-width="0.75"/>
<rect x="494.4" y="256.1" width="8" height="11.4" rx="3.6" fill="#fff" stroke="#555" stroke-width="0.75"/>
<rect x="507.3" y="256.1" width="8" height="11.4" rx="3.6" fill="#fff" stroke="#555" stroke-width="0.75"/>
<rect x="520.5" y="256.1" width="8" height="11.4" rx="3.6" fill="#fff" stroke="#555" stroke-width="0.75"/>
<rect x="538.9" y="256.1" width="8" height="11.4" rx="3.6" fill="#fff" stroke="#555" stroke-width="0.75"/>
<rect x="551.8" y="256.1" width="8" height="11.4" rx="3.6" fill="#fff" stroke="#555" stroke-width="0.75"/>
<rect x="565" y="256.1" width="8" height="11.4" rx="3.6" fill="#fff" stroke="#555" stroke-width="0.75"/>
<rect x="583.4" y="256.1" width="8" height="11.4" rx="3.6" fill="#fff" stroke="#555" stroke-width="0.75"/>
<rect x="596.3" y="256.1" width="8" height="11.4" rx="3.6" fill="#fff" stroke="#555" stroke-width="0.75"/>
<rect x="609.5" y="256.1" width="8" height="11.4" rx="3.6" fill="#fff" stroke="#555" stroke-width="0.75"/>
<rect x="400" y="264.5" width="44.5" height="14" rx="0.8" fill="#F62569" stroke="#3b0d1c" stroke-width="0.8"/>
<rect x="444.5" y="264.5" width="44.5" height="14" rx="0.8" fill="#F62569" stroke="#3b0d1c" stroke-width="0.8"/>
<rect x="489" y="264.5" width="44.5" height="14" rx="0.8" fill="#F62569" stroke="#3b0d1c" stroke-width="0.8"/>
<rect x="533.5" y="264.5" width="44.5" height="14" rx="0.8" fill="#F62569" stroke="#3b0d1c" stroke-width="0.8"/>
<rect x="578" y="264.5" width="44.5" height="14" rx="0.8" fill="#F62569" stroke="#3b0d1c" stroke-width="0.8"/>
<rect x="407.7" y="371.3" width="8" height="11.4" rx="3.6" fill="#fff" stroke="#555" stroke-width="0.75"/>
<rect x="420.6" y="371.3" width="8" height="11.4" rx="3.6" fill="#fff" stroke="#555" stroke-width="0.75"/>
<rect x="433.8" y="371.3" width="8" height="11.4" rx="3.6" fill="#fff" stroke="#555" stroke-width="0.75"/>
<rect x="452.2" y="371.3" width="8" height="11.4" rx="3.6" fill="#fff" stroke="#555" stroke-width="0.75"/>
<rect x="465.1" y="371.3" width="8" height="11.4" rx="3.6" fill="#fff" stroke="#555" stroke-width="0.75"/>
<rect x="478.3" y="371.3" width="8" height="11.4" rx="3.6" fill="#fff" stroke="#555" stroke-width="0.75"/>
<rect x="496.7" y="371.3" width="8" height="11.4" rx="3.6" fill="#fff" stroke="#555" stroke-width="0.75"/>
<rect x="509.6" y="371.3" width="8" height="11.4" rx="3.6" fill="#fff" stroke="#555" stroke-width="0.75"/>
<rect x="522.8" y="371.3" width="8" height="11.4" rx="3.6" fill="#fff" stroke="#555" stroke-width="0.75"/>
<rect x="541.2" y="371.3" width="8" height="11.4" rx="3.6" fill="#fff" stroke="#555" stroke-width="0.75"/>
<rect x="554.1" y="371.3" width="8" height="11.4" rx="3.6" fill="#fff" stroke="#555" stroke-width="0.75"/>
<rect x="567.3" y="371.3" width="8" height="11.4" rx="3.6" fill="#fff" stroke="#555" stroke-width="0.75"/>
<rect x="585.7" y="371.3" width="8" height="11.4" rx="3.6" fill="#fff" stroke="#555" stroke-width="0.75"/>
<rect x="598.6" y="371.3" width="8" height="11.4" rx="3.6" fill="#fff" stroke="#555" stroke-width="0.75"/>
<rect x="611.8" y="371.3" width="8" height="11.4" rx="3.6" fill="#fff" stroke="#555" stroke-width="0.75"/>
<rect x="402.3" y="360.3" width="44.5" height="14" rx="0.8" fill="#F62569" stroke="#3b0d1c" stroke-width="0.8"/>
<rect x="446.8" y="360.3" width="44.5" height="14" rx="0.8" fill="#F62569" stroke="#3b0d1c" stroke-width="0.8"/>
<rect x="491.3" y="360.3" width="44.5" height="14" rx="0.8" fill="#F62569" stroke="#3b0d1c" stroke-width="0.8"/>
<rect x="535.8" y="360.3" width="44.5" height="14" rx="0.8" fill="#F62569" stroke="#3b0d1c" stroke-width="0.8"/>
<rect x="580.3" y="360.3" width="44.5" height="14" rx="0.8" fill="#F62569" stroke="#3b0d1c" stroke-width="0.8"/>
<rect x="634.8" y="277.6" width="11.4" height="8" rx="3.6" fill="#fff" stroke="#555" stroke-width="0.75"/>
<rect x="634.8" y="290.7" width="11.4" height="8" rx="3.6" fill="#fff" stroke="#555" stroke-width="0.75"/>
<rect x="634.8" y="304" width="11.4" height="8" rx="3.6" fill="#fff" stroke="#555" stroke-width="0.75"/>
<rect x="634.8" y="322.1" width="11.4" height="8" rx="3.6" fill="#fff" stroke="#555" stroke-width="0.75"/>
<rect x="634.8" y="335.2" width="11.4" height="8" rx="3.6" fill="#fff" stroke="#555" stroke-width="0.75"/>
<rect x="634.8" y="348.5" width="11.4" height="8" rx="3.6" fill="#fff" stroke="#555" stroke-width="0.75"/>
<rect x="623.7" y="272.4" width="14.1" height="44.5" rx="0.8" fill="#F62569" stroke="#3b0d1c" stroke-width="0.8"/>
<rect x="623.7" y="316.9" width="14.1" height="44.5" rx="0.8" fill="#F62569" stroke="#3b0d1c" stroke-width="0.8"/>
<path d="M456.2 290 v4.6 a3.6 3.6 0 0 0 3.6 3.6 h1.17 a3.6 3.6 0 0 0 3.6 -3.6 v-4.6 z" fill="#E5E9EB" stroke="#333" stroke-width="0.9"/>
<path d="M464.57 290 v4.6 a3.6 3.6 0 0 0 3.6 3.6 h1.17 a3.6 3.6 0 0 0 3.6 -3.6 v-4.6 z" fill="#E5E9EB" stroke="#333" stroke-width="0.9"/>
<path d="M472.94 290 v4.6 a3.6 3.6 0 0 0 3.6 3.6 h1.17 a3.6 3.6 0 0 0 3.6 -3.6 v-4.6 z" fill="#E5E9EB" stroke="#333" stroke-width="0.9"/>
<path d="M481.31 290 v4.6 a3.6 3.6 0 0 0 3.6 3.6 h1.17 a3.6 3.6 0 0 0 3.6 -3.6 v-4.6 z" fill="#E5E9EB" stroke="#333" stroke-width="0.9"/>
<path d="M489.68 290 v4.6 a3.6 3.6 0 0 0 3.6 3.6 h1.17 a3.6 3.6 0 0 0 3.6 -3.6 v-4.6 z" fill="#E5E9EB" stroke="#333" stroke-width="0.9"/>
<path d="M498.05 290 v4.6 a3.6 3.6 0 0 0 3.6 3.6 h1.17 a3.6 3.6 0 0 0 3.6 -3.6 v-4.6 z" fill="#E5E9EB" stroke="#333" stroke-width="0.9"/>
<path d="M506.42 290 v4.6 a3.6 3.6 0 0 0 3.6 3.6 h1.17 a3.6 3.6 0 0 0 3.6 -3.6 v-4.6 z" fill="#E5E9EB" stroke="#333" stroke-width="0.9"/>
<path d="M514.79 290 v4.6 a3.6 3.6 0 0 0 3.6 3.6 h1.17 a3.6 3.6 0 0 0 3.6 -3.6 v-4.6 z" fill="#E5E9EB" stroke="#333" stroke-width="0.9"/>
<path d="M523.16 290 v4.6 a3.6 3.6 0 0 0 3.6 3.6 h1.17 a3.6 3.6 0 0 0 3.6 -3.6 v-4.6 z" fill="#E5E9EB" stroke="#333" stroke-width="0.9"/>
<path d="M531.53 290 v4.6 a3.6 3.6 0 0 0 3.6 3.6 h1.17 a3.6 3.6 0 0 0 3.6 -3.6 v-4.6 z" fill="#E5E9EB" stroke="#333" stroke-width="0.9"/>
<rect x="419.4" y="316.7" width="45" height="13.5" rx="0.8" fill="#F62569" stroke="#3b0d1c" stroke-width="0.8"/>
<rect x="496.5" y="316.7" width="44.7" height="13.5" rx="0.8" fill="#F62569" stroke="#3b0d1c" stroke-width="0.8"/>
<text x="508.8" y="246" font-size="13.2" fill="#F23042" font-weight="normal" text-anchor="middle" textLength="82" lengthAdjust="spacingAndGlyphs" stroke="#F23042" stroke-width="0.36" stroke-linejoin="round">Warhammer</text>
<circle cx="481.1" cy="325.5" r="15" fill="#000" opacity="0.18" filter="url(#b2)"/>
<circle cx="479.6" cy="323.5" r="14" fill="#000"/>
<use href="#sq" x="401.3" y="467.6"/>
<use href="#sq" x="401.3" y="506.4"/>
<use href="#sq" x="401.3" y="545.5"/>
<use href="#sq" x="401.3" y="584.3"/>
<use href="#sq" x="401.3" y="622.9"/>
<use href="#sq" x="465.4" y="472"/>
<use href="#sq" x="465.4" y="511.2"/>
<use href="#sq" x="465.4" y="550.3"/>
<use href="#sq" x="465.4" y="589.1"/>
<use href="#sq" x="465.4" y="628.2"/>
<use href="#sq" x="524.2" y="465.3"/>
<use href="#sq" x="524.2" y="504.3"/>
<use href="#sq" x="524.2" y="543.5"/>
<use href="#sq" x="524.2" y="583.1"/>
<use href="#sq" x="524.2" y="621.8"/>
<rect x="559.4" y="438" width="14.1" height="44.6" rx="0.8" fill="#F62569" stroke="#3b0d1c" stroke-width="0.8"/>
<rect x="559.4" y="485.4" width="14.1" height="44.6" rx="0.8" fill="#F62569" stroke="#3b0d1c" stroke-width="0.8"/>
<text x="556.8" y="576.3" font-size="13" fill="#F23042" font-weight="normal" text-anchor="middle" textLength="152.5" lengthAdjust="spacingAndGlyphs" transform="rotate(-90 556.8 576.3)" stroke="#F23042" stroke-width="0.35" stroke-linejoin="round">Mahjong Sparrows Nest</text>
<rect x="563.4" y="597.2" width="11" height="11" fill="#FCE068" stroke="#444" stroke-width="0.8"/>
<circle cx="568.9" cy="602.7" r="1.6" fill="#F7D21E"/>
<rect x="577.5" y="564.6" width="11.4" height="8" rx="3.6" fill="#fff" stroke="#555" stroke-width="0.75"/>
<rect x="577.5" y="590.4" width="11.4" height="8" rx="3.6" fill="#fff" stroke="#555" stroke-width="0.75"/>
<rect x="577.5" y="611" width="11.4" height="8" rx="3.6" fill="#fff" stroke="#555" stroke-width="0.75"/>
<rect x="577.5" y="636.8" width="11.4" height="8" rx="3.6" fill="#fff" stroke="#555" stroke-width="0.75"/>
<rect x="585.9" y="559.2" width="14.1" height="44.1" rx="0.8" fill="#F62569" stroke="#3b0d1c" stroke-width="0.8"/>
<rect x="585.9" y="605.6" width="14.1" height="44.6" rx="0.8" fill="#F62569" stroke="#3b0d1c" stroke-width="0.8"/>
<text x="591.5" y="583.4" font-size="11.4" fill="#fff" font-weight="normal" text-anchor="middle" textLength="36" lengthAdjust="spacingAndGlyphs" opacity="0.85">ADMIN</text>
<text x="591.5" y="629.5" font-size="11.4" fill="#fff" font-weight="normal" text-anchor="middle" textLength="36" lengthAdjust="spacingAndGlyphs" opacity="0.85">ADMIN</text>
<path d="M611 578.2 h5.4 a3.6 3.6 0 0 1 3.6 3.6 v1.08 a3.6 3.6 0 0 1 -3.6 3.6 h-5.4 z" fill="#E5E9EB" stroke="#333" stroke-width="0.9"/>
<path d="M611 586.48 h5.4 a3.6 3.6 0 0 1 3.6 3.6 v1.08 a3.6 3.6 0 0 1 -3.6 3.6 h-5.4 z" fill="#E5E9EB" stroke="#333" stroke-width="0.9"/>
<path d="M611 594.76 h5.4 a3.6 3.6 0 0 1 3.6 3.6 v1.08 a3.6 3.6 0 0 1 -3.6 3.6 h-5.4 z" fill="#E5E9EB" stroke="#333" stroke-width="0.9"/>
<path d="M611 603.04 h5.4 a3.6 3.6 0 0 1 3.6 3.6 v1.08 a3.6 3.6 0 0 1 -3.6 3.6 h-5.4 z" fill="#E5E9EB" stroke="#333" stroke-width="0.9"/>
<path d="M611 611.32 h5.4 a3.6 3.6 0 0 1 3.6 3.6 v1.08 a3.6 3.6 0 0 1 -3.6 3.6 h-5.4 z" fill="#E5E9EB" stroke="#333" stroke-width="0.9"/>
<path d="M611 619.6 h5.4 a3.6 3.6 0 0 1 3.6 3.6 v1.08 a3.6 3.6 0 0 1 -3.6 3.6 h-5.4 z" fill="#E5E9EB" stroke="#333" stroke-width="0.9"/>
<path d="M444.6 677.1 v-4.6 a3.6 3.6 0 0 1 3.6 -3.6 h1.05 a3.6 3.6 0 0 1 3.6 3.6 v4.6 z" fill="#E5E9EB" stroke="#333" stroke-width="0.9"/>
<path d="M452.85 677.1 v-4.6 a3.6 3.6 0 0 1 3.6 -3.6 h1.05 a3.6 3.6 0 0 1 3.6 3.6 v4.6 z" fill="#E5E9EB" stroke="#333" stroke-width="0.9"/>
<path d="M461.1 677.1 v-4.6 a3.6 3.6 0 0 1 3.6 -3.6 h1.05 a3.6 3.6 0 0 1 3.6 3.6 v4.6 z" fill="#E5E9EB" stroke="#333" stroke-width="0.9"/>
<path d="M469.35 677.1 v-4.6 a3.6 3.6 0 0 1 3.6 -3.6 h1.05 a3.6 3.6 0 0 1 3.6 3.6 v4.6 z" fill="#E5E9EB" stroke="#333" stroke-width="0.9"/>
<path d="M477.6 677.1 v-4.6 a3.6 3.6 0 0 1 3.6 -3.6 h1.05 a3.6 3.6 0 0 1 3.6 3.6 v4.6 z" fill="#E5E9EB" stroke="#333" stroke-width="0.9"/>
<path d="M485.85 677.1 v-4.6 a3.6 3.6 0 0 1 3.6 -3.6 h1.05 a3.6 3.6 0 0 1 3.6 3.6 v4.6 z" fill="#E5E9EB" stroke="#333" stroke-width="0.9"/>
<path d="M516.1 677.1 v-4.6 a3.6 3.6 0 0 1 3.6 -3.6 h1 a3.6 3.6 0 0 1 3.6 3.6 v4.6 z" fill="#E5E9EB" stroke="#333" stroke-width="0.9"/>
<path d="M524.3 677.1 v-4.6 a3.6 3.6 0 0 1 3.6 -3.6 h1 a3.6 3.6 0 0 1 3.6 3.6 v4.6 z" fill="#E5E9EB" stroke="#333" stroke-width="0.9"/>
<path d="M532.5 677.1 v-4.6 a3.6 3.6 0 0 1 3.6 -3.6 h1 a3.6 3.6 0 0 1 3.6 3.6 v4.6 z" fill="#E5E9EB" stroke="#333" stroke-width="0.9"/>
<path d="M540.7 677.1 v-4.6 a3.6 3.6 0 0 1 3.6 -3.6 h1 a3.6 3.6 0 0 1 3.6 3.6 v4.6 z" fill="#E5E9EB" stroke="#333" stroke-width="0.9"/>
<path d="M548.9 677.1 v-4.6 a3.6 3.6 0 0 1 3.6 -3.6 h1 a3.6 3.6 0 0 1 3.6 3.6 v4.6 z" fill="#E5E9EB" stroke="#333" stroke-width="0.9"/>
<path d="M557.1 677.1 v-4.6 a3.6 3.6 0 0 1 3.6 -3.6 h1 a3.6 3.6 0 0 1 3.6 3.6 v4.6 z" fill="#E5E9EB" stroke="#333" stroke-width="0.9"/>
<rect x="587.3" y="396.2" width="8" height="11.4" rx="3.6" fill="#fff" stroke="#555" stroke-width="0.75"/>
<rect x="600.2" y="396.2" width="8" height="11.4" rx="3.6" fill="#fff" stroke="#555" stroke-width="0.75"/>
<rect x="613.6" y="396.2" width="8" height="11.4" rx="3.6" fill="#fff" stroke="#555" stroke-width="0.75"/>
<rect x="582.2" y="404.6" width="45" height="14" rx="0.8" fill="#F62569" stroke="#3b0d1c" stroke-width="0.8"/>
<text x="604.7" y="416.1" font-size="12.3" fill="#fff" font-weight="normal" text-anchor="middle" textLength="41" lengthAdjust="spacingAndGlyphs">ADMIN</text>
<rect x="627.9" y="406" width="10.6" height="10.6" fill="#FCE068" stroke="#444" stroke-width="0.8"/>
<circle cx="633.2" cy="411.3" r="1.6" fill="#F7D21E"/>
<rect x="710" y="389.2" width="8" height="11.4" rx="3.6" fill="#fff" stroke="#555" stroke-width="0.75"/>
<rect x="723.6" y="389.2" width="8" height="11.4" rx="3.6" fill="#fff" stroke="#555" stroke-width="0.75"/>
<rect x="736.5" y="389.2" width="8" height="11.4" rx="3.6" fill="#fff" stroke="#555" stroke-width="0.75"/>
<rect x="755.2" y="389.2" width="8" height="11.4" rx="3.6" fill="#fff" stroke="#555" stroke-width="0.75"/>
<rect x="768" y="389.2" width="8" height="11.4" rx="3.6" fill="#fff" stroke="#555" stroke-width="0.75"/>
<rect x="781" y="389.2" width="8" height="11.4" rx="3.6" fill="#fff" stroke="#555" stroke-width="0.75"/>
<rect x="705.3" y="397.6" width="44.7" height="14" rx="0.8" fill="#F62569" stroke="#3b0d1c" stroke-width="0.8"/>
<rect x="750" y="397.6" width="44.4" height="14" rx="0.8" fill="#F62569" stroke="#3b0d1c" stroke-width="0.8"/>
<clipPath id="cAdm"><rect x="705.3" y="397" width="32.5" height="15"/></clipPath>
<text x="707.5" y="409" font-size="12.3" fill="#fff" font-weight="normal" text-anchor="start" textLength="41" lengthAdjust="spacingAndGlyphs" clip-path="url(#cAdm)">ADMIN</text>
<text x="772.8" y="409" font-size="12.3" fill="#fff" font-weight="normal" text-anchor="middle" textLength="41" lengthAdjust="spacingAndGlyphs">ADMIN</text>
<rect x="738.2" y="398.8" width="11" height="11.4" fill="#FCE068" stroke="#444" stroke-width="0.8"/>
<circle cx="743.7" cy="404.5" r="1.6" fill="#F7D21E"/>
<text x="747.5" y="384.4" font-size="12.5" fill="#F23042" font-weight="normal" text-anchor="middle" textLength="29" lengthAdjust="spacingAndGlyphs" stroke="#F23042" stroke-width="0.34" stroke-linejoin="round">D&amp;D</text>
<text x="686.6" y="421.3" font-size="13" fill="#000" font-weight="normal" text-anchor="middle" textLength="21.5" lengthAdjust="spacingAndGlyphs" stroke="#000" stroke-width="0.3" stroke-linejoin="round">exit</text>
<text x="638" y="546" font-size="7.4" fill="#F23042" font-weight="normal" text-anchor="middle" textLength="24.6" lengthAdjust="spacingAndGlyphs">Queue</text>
<text x="780" y="546.6" font-size="7.4" fill="#F23042" font-weight="normal" text-anchor="middle" textLength="24.4" lengthAdjust="spacingAndGlyphs">Queue</text>
<use href="#uparrow" x="666.4" y="540"/>
<use href="#uparrow" x="730.2" y="540"/>
<text x="666.6" y="553.4" font-size="13" fill="#000" font-weight="normal" text-anchor="middle" textLength="32" lengthAdjust="spacingAndGlyphs" stroke="#000" stroke-width="0.3" stroke-linejoin="round">enter</text>
<text x="730.4" y="553.4" font-size="13" fill="#000" font-weight="normal" text-anchor="middle" textLength="32" lengthAdjust="spacingAndGlyphs" stroke="#000" stroke-width="0.3" stroke-linejoin="round">enter</text>
<circle cx="594.3" cy="531.4" r="15" fill="#000" opacity="0.18" filter="url(#b2)"/>
<circle cx="592.8" cy="529.4" r="14" fill="#000"/>
<circle cx="831" cy="531.2" r="15" fill="#000" opacity="0.18" filter="url(#b2)"/>
<circle cx="829.5" cy="529.2" r="14" fill="#000"/>
<rect x="819" y="547.2" width="8" height="11.4" rx="3.6" fill="#fff" stroke="#555" stroke-width="0.75"/>
<rect x="832" y="547.2" width="8" height="11.4" rx="3.6" fill="#fff" stroke="#555" stroke-width="0.75"/>
<rect x="812.7" y="555.6" width="33.6" height="14.4" rx="0.8" fill="#10ADF2" stroke="#1c1c1c" stroke-width="0.8"/>
<text x="829.5" y="566.2" font-size="12.6" fill="#000" font-weight="normal" text-anchor="middle" textLength="42" lengthAdjust="spacingAndGlyphs" stroke="#000" stroke-width="0.3" stroke-linejoin="round">ADMIN</text>
<use href="#rt8" x="805.5" y="112.3"/>
<use href="#rt8" x="872.1" y="112.3"/>
<use href="#rt8" x="939.1" y="112.3"/>
<use href="#rt8" x="1005.7" y="112.3"/>
<use href="#rt8" x="772" y="179"/>
<use href="#rt8" x="838.7" y="179"/>
<use href="#rt8" x="905.3" y="179"/>
<use href="#rt8" x="972" y="179"/>
<use href="#rt8" x="805.5" y="245.9"/>
<use href="#rt8" x="872.1" y="245.9"/>
<use href="#rt8" x="939.1" y="245.9"/>
<use href="#rt8" x="1005.7" y="245.9"/>
<rect x="751" y="249.5" width="11.4" height="8" rx="3.6" fill="#fff" stroke="#555" stroke-width="0.75"/>
<rect x="751" y="262.5" width="11.4" height="8" rx="3.6" fill="#fff" stroke="#555" stroke-width="0.75"/>
<rect x="751" y="275.7" width="11.4" height="8" rx="3.6" fill="#fff" stroke="#555" stroke-width="0.75"/>
<rect x="740.2" y="244.5" width="13.8" height="44.2" rx="0.8" fill="#F62569" stroke="#3b0d1c" stroke-width="0.8"/>
<rect x="742.2" y="262" width="9.8" height="9.8" fill="#FCE068" stroke="#444" stroke-width="0.8"/>
<circle cx="747.1" cy="266.9" r="1.6" fill="#F7D21E"/>
<circle cx="839.3" cy="292.1" r="15" fill="#000" opacity="0.18" filter="url(#b2)"/>
<circle cx="837.8" cy="290.1" r="14" fill="#000"/>
<rect x="765.9" y="305" width="11.4" height="8" rx="3.6" fill="#fff" stroke="#555" stroke-width="0.75"/>
<rect x="765.9" y="319.4" width="11.4" height="8" rx="3.6" fill="#fff" stroke="#555" stroke-width="0.75"/>
<rect x="774.3" y="299.4" width="14.2" height="33.8" rx="0.8" fill="#10ADF2" stroke="#1c1c1c" stroke-width="0.8"/>
<text x="781.6" y="320" font-size="13" fill="#000" font-weight="normal" text-anchor="middle" textLength="17" lengthAdjust="spacingAndGlyphs" stroke="#000" stroke-width="0.3" stroke-linejoin="round">AV</text>
<g transform="rotate(-18 847.9 322.8)"><rect x="831.2" y="318.2" width="33.4" height="9.2" fill="#E5E9EB" stroke="#333" stroke-width="0.9"/><rect x="846" y="320.8" width="3.6" height="4" fill="#666"/></g>
<path d="M1031.4 295.5 v15.5 M1031.4 311 h-2 M1013.8 295.9 q1.5 13 15 15" fill="none" stroke="#888" stroke-width="0.8"/>
<path d="M357 73.5 h15 M372 73.5 q0 14 -15 17" fill="none" stroke="#666" stroke-width="0.8"/>
<path d="M357 244 h16 M373 244 q0 14 -16 17 M357 265.5 h15 M372 265.5 q0 13 -15 17" fill="none" stroke="#666" stroke-width="0.8"/>
<path d="M707.5 110 q-15 1 -17 17 h17 M707.5 262.5 q-14 2 -16.5 16.5 h16.5" fill="none" stroke="#777" stroke-width="0.8"/>
<rect x="911" y="313.7" width="8" height="11.4" rx="3.6" fill="#fff" stroke="#555" stroke-width="0.75"/>
<rect x="924.3" y="313.7" width="8" height="11.4" rx="3.6" fill="#fff" stroke="#555" stroke-width="0.75"/>
<rect x="937.2" y="313.7" width="8" height="11.4" rx="3.6" fill="#fff" stroke="#555" stroke-width="0.75"/>
<rect x="954.75" y="313.7" width="8" height="11.4" rx="3.6" fill="#fff" stroke="#555" stroke-width="0.75"/>
<rect x="967.6" y="313.7" width="8" height="11.4" rx="3.6" fill="#fff" stroke="#555" stroke-width="0.75"/>
<rect x="981" y="313.7" width="8" height="11.4" rx="3.6" fill="#fff" stroke="#555" stroke-width="0.75"/>
<rect x="905.3" y="322.1" width="44.5" height="13.7" rx="0.8" fill="#F62569" stroke="#3b0d1c" stroke-width="0.8"/>
<rect x="949.8" y="322.1" width="44.6" height="13.7" rx="0.8" fill="#F62569" stroke="#3b0d1c" stroke-width="0.8"/>
<rect x="831.2" y="361.3" width="8" height="11.4" rx="3.6" fill="#fff" stroke="#555" stroke-width="0.75"/>
<rect x="848.1" y="361.3" width="8" height="11.4" rx="3.6" fill="#fff" stroke="#555" stroke-width="0.75"/>
<rect x="875.8" y="361.3" width="8" height="11.4" rx="3.6" fill="#fff" stroke="#555" stroke-width="0.75"/>
<rect x="893.1" y="361.3" width="8" height="11.4" rx="3.6" fill="#fff" stroke="#555" stroke-width="0.75"/>
<rect x="942.6" y="361.3" width="8" height="11.4" rx="3.6" fill="#fff" stroke="#555" stroke-width="0.75"/>
<rect x="959.4" y="361.3" width="8" height="11.4" rx="3.6" fill="#fff" stroke="#555" stroke-width="0.75"/>
<rect x="986.9" y="361.3" width="8" height="11.4" rx="3.6" fill="#fff" stroke="#555" stroke-width="0.75"/>
<rect x="1004" y="361.3" width="8" height="11.4" rx="3.6" fill="#fff" stroke="#555" stroke-width="0.75"/>
<rect x="831.2" y="380.7" width="8" height="11.4" rx="3.6" fill="#fff" stroke="#555" stroke-width="0.75"/>
<rect x="848.1" y="380.7" width="8" height="11.4" rx="3.6" fill="#fff" stroke="#555" stroke-width="0.75"/>
<rect x="875.8" y="380.7" width="8" height="11.4" rx="3.6" fill="#fff" stroke="#555" stroke-width="0.75"/>
<rect x="893.1" y="380.7" width="8" height="11.4" rx="3.6" fill="#fff" stroke="#555" stroke-width="0.75"/>
<rect x="942.6" y="380.7" width="8" height="11.4" rx="3.6" fill="#fff" stroke="#555" stroke-width="0.75"/>
<rect x="959.4" y="380.7" width="8" height="11.4" rx="3.6" fill="#fff" stroke="#555" stroke-width="0.75"/>
<rect x="986.9" y="380.7" width="8" height="11.4" rx="3.6" fill="#fff" stroke="#555" stroke-width="0.75"/>
<rect x="1004" y="380.7" width="8" height="11.4" rx="3.6" fill="#fff" stroke="#555" stroke-width="0.75"/>
<rect x="821.6" y="369.7" width="44.5" height="14" rx="0.8" fill="#F62569" stroke="#3b0d1c" stroke-width="0.8"/>
<rect x="866.1" y="369.7" width="44.6" height="14" rx="0.8" fill="#F62569" stroke="#3b0d1c" stroke-width="0.8"/>
<rect x="932.5" y="369.7" width="44.7" height="14" rx="0.8" fill="#F62569" stroke="#3b0d1c" stroke-width="0.8"/>
<rect x="977.2" y="369.7" width="44.8" height="14" rx="0.8" fill="#F62569" stroke="#3b0d1c" stroke-width="0.8"/>
<rect x="831.2" y="403" width="8" height="11.4" rx="3.6" fill="#fff" stroke="#555" stroke-width="0.75"/>
<rect x="848.1" y="403" width="8" height="11.4" rx="3.6" fill="#fff" stroke="#555" stroke-width="0.75"/>
<rect x="875.8" y="403" width="8" height="11.4" rx="3.6" fill="#fff" stroke="#555" stroke-width="0.75"/>
<rect x="893.1" y="403" width="8" height="11.4" rx="3.6" fill="#fff" stroke="#555" stroke-width="0.75"/>
<rect x="942.6" y="403" width="8" height="11.4" rx="3.6" fill="#fff" stroke="#555" stroke-width="0.75"/>
<rect x="959.4" y="403" width="8" height="11.4" rx="3.6" fill="#fff" stroke="#555" stroke-width="0.75"/>
<rect x="986.9" y="403" width="8" height="11.4" rx="3.6" fill="#fff" stroke="#555" stroke-width="0.75"/>
<rect x="1004" y="403" width="8" height="11.4" rx="3.6" fill="#fff" stroke="#555" stroke-width="0.75"/>
<rect x="831.2" y="422.4" width="8" height="11.4" rx="3.6" fill="#fff" stroke="#555" stroke-width="0.75"/>
<rect x="848.1" y="422.4" width="8" height="11.4" rx="3.6" fill="#fff" stroke="#555" stroke-width="0.75"/>
<rect x="875.8" y="422.4" width="8" height="11.4" rx="3.6" fill="#fff" stroke="#555" stroke-width="0.75"/>
<rect x="893.1" y="422.4" width="8" height="11.4" rx="3.6" fill="#fff" stroke="#555" stroke-width="0.75"/>
<rect x="942.6" y="422.4" width="8" height="11.4" rx="3.6" fill="#fff" stroke="#555" stroke-width="0.75"/>
<rect x="959.4" y="422.4" width="8" height="11.4" rx="3.6" fill="#fff" stroke="#555" stroke-width="0.75"/>
<rect x="986.9" y="422.4" width="8" height="11.4" rx="3.6" fill="#fff" stroke="#555" stroke-width="0.75"/>
<rect x="1004" y="422.4" width="8" height="11.4" rx="3.6" fill="#fff" stroke="#555" stroke-width="0.75"/>
<rect x="821.6" y="411.4" width="44.5" height="14" rx="0.8" fill="#F62569" stroke="#3b0d1c" stroke-width="0.8"/>
<rect x="866.1" y="411.4" width="44.6" height="14" rx="0.8" fill="#F62569" stroke="#3b0d1c" stroke-width="0.8"/>
<rect x="932.5" y="411.4" width="44.7" height="14" rx="0.8" fill="#F62569" stroke="#3b0d1c" stroke-width="0.8"/>
<rect x="977.2" y="411.4" width="44.8" height="14" rx="0.8" fill="#F62569" stroke="#3b0d1c" stroke-width="0.8"/>
<rect x="831.2" y="444.6" width="8" height="11.4" rx="3.6" fill="#fff" stroke="#555" stroke-width="0.75"/>
<rect x="848.1" y="444.6" width="8" height="11.4" rx="3.6" fill="#fff" stroke="#555" stroke-width="0.75"/>
<rect x="875.8" y="444.6" width="8" height="11.4" rx="3.6" fill="#fff" stroke="#555" stroke-width="0.75"/>
<rect x="893.1" y="444.6" width="8" height="11.4" rx="3.6" fill="#fff" stroke="#555" stroke-width="0.75"/>
<rect x="942.6" y="444.6" width="8" height="11.4" rx="3.6" fill="#fff" stroke="#555" stroke-width="0.75"/>
<rect x="959.4" y="444.6" width="8" height="11.4" rx="3.6" fill="#fff" stroke="#555" stroke-width="0.75"/>
<rect x="986.9" y="444.6" width="8" height="11.4" rx="3.6" fill="#fff" stroke="#555" stroke-width="0.75"/>
<rect x="1004" y="444.6" width="8" height="11.4" rx="3.6" fill="#fff" stroke="#555" stroke-width="0.75"/>
<rect x="831.2" y="464" width="8" height="11.4" rx="3.6" fill="#fff" stroke="#555" stroke-width="0.75"/>
<rect x="848.1" y="464" width="8" height="11.4" rx="3.6" fill="#fff" stroke="#555" stroke-width="0.75"/>
<rect x="875.8" y="464" width="8" height="11.4" rx="3.6" fill="#fff" stroke="#555" stroke-width="0.75"/>
<rect x="893.1" y="464" width="8" height="11.4" rx="3.6" fill="#fff" stroke="#555" stroke-width="0.75"/>
<rect x="942.6" y="464" width="8" height="11.4" rx="3.6" fill="#fff" stroke="#555" stroke-width="0.75"/>
<rect x="959.4" y="464" width="8" height="11.4" rx="3.6" fill="#fff" stroke="#555" stroke-width="0.75"/>
<rect x="986.9" y="464" width="8" height="11.4" rx="3.6" fill="#fff" stroke="#555" stroke-width="0.75"/>
<rect x="1004" y="464" width="8" height="11.4" rx="3.6" fill="#fff" stroke="#555" stroke-width="0.75"/>
<rect x="821.6" y="453" width="44.5" height="14" rx="0.8" fill="#F62569" stroke="#3b0d1c" stroke-width="0.8"/>
<rect x="866.1" y="453" width="44.6" height="14" rx="0.8" fill="#F62569" stroke="#3b0d1c" stroke-width="0.8"/>
<rect x="932.5" y="453" width="44.7" height="14" rx="0.8" fill="#F62569" stroke="#3b0d1c" stroke-width="0.8"/>
<rect x="977.2" y="453" width="44.8" height="14" rx="0.8" fill="#F62569" stroke="#3b0d1c" stroke-width="0.8"/>
<rect x="866.4" y="486.6" width="8" height="11.4" rx="3.6" fill="#fff" stroke="#555" stroke-width="0.75"/>
<rect x="883.7" y="486.6" width="8" height="11.4" rx="3.6" fill="#fff" stroke="#555" stroke-width="0.75"/>
<rect x="942.6" y="486.6" width="8" height="11.4" rx="3.6" fill="#fff" stroke="#555" stroke-width="0.75"/>
<rect x="959.4" y="486.6" width="8" height="11.4" rx="3.6" fill="#fff" stroke="#555" stroke-width="0.75"/>
<rect x="986.9" y="486.6" width="8" height="11.4" rx="3.6" fill="#fff" stroke="#555" stroke-width="0.75"/>
<rect x="1004" y="486.6" width="8" height="11.4" rx="3.6" fill="#fff" stroke="#555" stroke-width="0.75"/>
<rect x="866.4" y="506" width="8" height="11.4" rx="3.6" fill="#fff" stroke="#555" stroke-width="0.75"/>
<rect x="883.7" y="506" width="8" height="11.4" rx="3.6" fill="#fff" stroke="#555" stroke-width="0.75"/>
<rect x="942.6" y="506" width="8" height="11.4" rx="3.6" fill="#fff" stroke="#555" stroke-width="0.75"/>
<rect x="959.4" y="506" width="8" height="11.4" rx="3.6" fill="#fff" stroke="#555" stroke-width="0.75"/>
<rect x="986.9" y="506" width="8" height="11.4" rx="3.6" fill="#fff" stroke="#555" stroke-width="0.75"/>
<rect x="1004" y="506" width="8" height="11.4" rx="3.6" fill="#fff" stroke="#555" stroke-width="0.75"/>
<rect x="856.8" y="495" width="44.5" height="14" rx="0.8" fill="#F62569" stroke="#3b0d1c" stroke-width="0.8"/>
<rect x="932.5" y="495" width="44.7" height="14" rx="0.8" fill="#F62569" stroke="#3b0d1c" stroke-width="0.8"/>
<rect x="977.2" y="495" width="44.8" height="14" rx="0.8" fill="#F62569" stroke="#3b0d1c" stroke-width="0.8"/>
<rect x="866.4" y="528.2" width="8" height="11.4" rx="3.6" fill="#fff" stroke="#555" stroke-width="0.75"/>
<rect x="883.7" y="528.2" width="8" height="11.4" rx="3.6" fill="#fff" stroke="#555" stroke-width="0.75"/>
<rect x="942.6" y="528.2" width="8" height="11.4" rx="3.6" fill="#fff" stroke="#555" stroke-width="0.75"/>
<rect x="959.4" y="528.2" width="8" height="11.4" rx="3.6" fill="#fff" stroke="#555" stroke-width="0.75"/>
<rect x="986.9" y="528.2" width="8" height="11.4" rx="3.6" fill="#fff" stroke="#555" stroke-width="0.75"/>
<rect x="1004" y="528.2" width="8" height="11.4" rx="3.6" fill="#fff" stroke="#555" stroke-width="0.75"/>
<rect x="866.4" y="547.6" width="8" height="11.4" rx="3.6" fill="#fff" stroke="#555" stroke-width="0.75"/>
<rect x="883.7" y="547.6" width="8" height="11.4" rx="3.6" fill="#fff" stroke="#555" stroke-width="0.75"/>
<rect x="942.6" y="547.6" width="8" height="11.4" rx="3.6" fill="#fff" stroke="#555" stroke-width="0.75"/>
<rect x="959.4" y="547.6" width="8" height="11.4" rx="3.6" fill="#fff" stroke="#555" stroke-width="0.75"/>
<rect x="986.9" y="547.6" width="8" height="11.4" rx="3.6" fill="#fff" stroke="#555" stroke-width="0.75"/>
<rect x="1004" y="547.6" width="8" height="11.4" rx="3.6" fill="#fff" stroke="#555" stroke-width="0.75"/>
<rect x="856.8" y="536.6" width="44.5" height="14" rx="0.8" fill="#F62569" stroke="#3b0d1c" stroke-width="0.8"/>
<rect x="932.5" y="536.6" width="44.7" height="14" rx="0.8" fill="#F62569" stroke="#3b0d1c" stroke-width="0.8"/>
<rect x="977.2" y="536.6" width="44.8" height="14" rx="0.8" fill="#F62569" stroke="#3b0d1c" stroke-width="0.8"/>
<text x="1039" y="375.6" font-size="15.2" fill="#F23042" font-weight="normal" text-anchor="start" textLength="171" lengthAdjust="spacingAndGlyphs" stroke="#F23042" stroke-width="0.41" stroke-linejoin="round">Family HQ Workshops</text>
<text x="1039" y="397.4" font-size="15.2" fill="#F23042" font-weight="normal" text-anchor="start" textLength="183.5" lengthAdjust="spacingAndGlyphs" stroke="#F23042" stroke-width="0.41" stroke-linejoin="round">Interactive Programmin</text>
<rect x="892.6" y="617.5" width="11.4" height="8" rx="3.6" fill="#fff" stroke="#555" stroke-width="0.75"/>
<rect x="892.6" y="630.7" width="11.4" height="8" rx="3.6" fill="#fff" stroke="#555" stroke-width="0.75"/>
<rect x="881.1" y="611" width="14.4" height="33.7" rx="0.8" fill="#10ADF2" stroke="#1c1c1c" stroke-width="0.8"/>
<use href="#rt8" x="939" y="636"/>
<use href="#rt8" x="966.9" y="688"/>
<text x="898.9" y="688.2" font-size="12.6" fill="#EE1133" font-weight="bold" text-anchor="middle" textLength="19.5" lengthAdjust="spacingAndGlyphs">ISA</text>
<rect x="908.4" y="735.8" width="8" height="11.4" rx="3.6" fill="#fff" stroke="#555" stroke-width="0.75"/>
<rect x="921.8" y="735.8" width="8" height="11.4" rx="3.6" fill="#fff" stroke="#555" stroke-width="0.75"/>
<rect x="956.2" y="735.8" width="8" height="11.4" rx="3.6" fill="#fff" stroke="#555" stroke-width="0.75"/>
<rect x="969.8" y="735.8" width="8" height="11.4" rx="3.6" fill="#fff" stroke="#555" stroke-width="0.75"/>
<rect x="902.5" y="744.2" width="33.6" height="13.9" rx="0.8" fill="#10ADF2" stroke="#1c1c1c" stroke-width="0.8"/>
<rect x="949.9" y="744.2" width="33.8" height="13.9" rx="0.8" fill="#10ADF2" stroke="#1c1c1c" stroke-width="0.8"/>
<path d="M1020.6 734.4 h5 a3.6 3.6 0 0 1 3.6 3.6 v1 a3.6 3.6 0 0 1 -3.6 3.6 h-5 z" fill="#E5E9EB" stroke="#333" stroke-width="0.9"/>
<path d="M1020.6 742.6 h5 a3.6 3.6 0 0 1 3.6 3.6 v1 a3.6 3.6 0 0 1 -3.6 3.6 h-5 z" fill="#E5E9EB" stroke="#333" stroke-width="0.9"/>
<path d="M1020.6 750.8 h5 a3.6 3.6 0 0 1 3.6 3.6 v1 a3.6 3.6 0 0 1 -3.6 3.6 h-5 z" fill="#E5E9EB" stroke="#333" stroke-width="0.9"/>
<path d="M1020.6 759 h5 a3.6 3.6 0 0 1 3.6 3.6 v1 a3.6 3.6 0 0 1 -3.6 3.6 h-5 z" fill="#E5E9EB" stroke="#333" stroke-width="0.9"/>
<path d="M1020.6 767.2 h5 a3.6 3.6 0 0 1 3.6 3.6 v1 a3.6 3.6 0 0 1 -3.6 3.6 h-5 z" fill="#E5E9EB" stroke="#333" stroke-width="0.9"/>
<path d="M1020.6 775.4 h5 a3.6 3.6 0 0 1 3.6 3.6 v1 a3.6 3.6 0 0 1 -3.6 3.6 h-5 z" fill="#E5E9EB" stroke="#333" stroke-width="0.9"/>
<path d="M988.2 778.9 h5 a3.6 3.6 0 0 1 3.6 3.6 v1 a3.6 3.6 0 0 1 -3.6 3.6 h-5 z" fill="#E5E9EB" stroke="#333" stroke-width="0.9"/>
<path d="M988.2 787.1 h5 a3.6 3.6 0 0 1 3.6 3.6 v1 a3.6 3.6 0 0 1 -3.6 3.6 h-5 z" fill="#E5E9EB" stroke="#333" stroke-width="0.9"/>
<path d="M988.2 795.3 h5 a3.6 3.6 0 0 1 3.6 3.6 v1 a3.6 3.6 0 0 1 -3.6 3.6 h-5 z" fill="#E5E9EB" stroke="#333" stroke-width="0.9"/>
<path d="M988.2 803.5 h5 a3.6 3.6 0 0 1 3.6 3.6 v1 a3.6 3.6 0 0 1 -3.6 3.6 h-5 z" fill="#E5E9EB" stroke="#333" stroke-width="0.9"/>
<path d="M988.2 811.7 h5 a3.6 3.6 0 0 1 3.6 3.6 v1 a3.6 3.6 0 0 1 -3.6 3.6 h-5 z" fill="#E5E9EB" stroke="#333" stroke-width="0.9"/>
<path d="M988.2 819.9 h5 a3.6 3.6 0 0 1 3.6 3.6 v1 a3.6 3.6 0 0 1 -3.6 3.6 h-5 z" fill="#E5E9EB" stroke="#333" stroke-width="0.9"/>
<rect x="892.6" y="860.4" width="8" height="11.4" rx="3.6" fill="#fff" stroke="#555" stroke-width="0.75"/>
<rect x="906.4" y="860.4" width="8" height="11.4" rx="3.6" fill="#fff" stroke="#555" stroke-width="0.75"/>
<rect x="930.3" y="860.4" width="8" height="11.4" rx="3.6" fill="#fff" stroke="#555" stroke-width="0.75"/>
<rect x="943.7" y="860.4" width="8" height="11.4" rx="3.6" fill="#fff" stroke="#555" stroke-width="0.75"/>
<rect x="967.7" y="860.4" width="8" height="11.4" rx="3.6" fill="#fff" stroke="#555" stroke-width="0.75"/>
<rect x="982" y="860.4" width="8" height="11.4" rx="3.6" fill="#fff" stroke="#555" stroke-width="0.75"/>
<rect x="886.6" y="849.7" width="33.9" height="13.7" rx="0.8" fill="#10ADF2" stroke="#1c1c1c" stroke-width="0.8"/>
<rect x="924.5" y="849.7" width="33.5" height="13.7" rx="0.8" fill="#10ADF2" stroke="#1c1c1c" stroke-width="0.8"/>
<rect x="962.3" y="849.7" width="33.5" height="13.7" rx="0.8" fill="#10ADF2" stroke="#1c1c1c" stroke-width="0.8"/>
<text x="961.2" y="909.8" font-size="15.8" fill="#F23042" font-weight="normal" text-anchor="middle" textLength="133.7" lengthAdjust="spacingAndGlyphs" stroke="#F23042" stroke-width="0.43" stroke-linejoin="round">Star Wars Groups</text>
<text x="1032.4" y="832.2" font-size="12.7" fill="#F23042" font-weight="normal" text-anchor="middle" textLength="57" lengthAdjust="spacingAndGlyphs" transform="rotate(-55 1032.4 832.2)" stroke="#F23042" stroke-width="0.34" stroke-linejoin="round">No Entry</text>
<circle cx="1066" cy="775.7" r="12.2" fill="#000" opacity="0.18" filter="url(#b2)"/>
<circle cx="1064.5" cy="773.7" r="11.2" fill="#000"/>
<circle cx="1073.4" cy="1007" r="12" fill="#000" opacity="0.18" filter="url(#b2)"/>
<circle cx="1071.9" cy="1005" r="11" fill="#000"/>
<circle cx="1065.9" cy="1256.4" r="12" fill="#000" opacity="0.18" filter="url(#b2)"/>
<circle cx="1064.4" cy="1254.4" r="11" fill="#000"/>
<text x="625.9" y="704.8" font-size="7.6" fill="#F23042" font-weight="normal" text-anchor="start" textLength="33" lengthAdjust="spacingAndGlyphs">Mahjong</text>
<text x="625.9" y="715.6" font-size="7.6" fill="#F23042" font-weight="normal" text-anchor="start" textLength="24.8" lengthAdjust="spacingAndGlyphs">Queue</text>
<text x="521.8" y="809.8" font-size="7.6" fill="#F23042" font-weight="normal" text-anchor="start" textLength="13.4" lengthAdjust="spacingAndGlyphs">B.B.</text>
<text x="521.8" y="820.4" font-size="7.6" fill="#F23042" font-weight="normal" text-anchor="start" textLength="25" lengthAdjust="spacingAndGlyphs">Queue</text>
<circle cx="594.5" cy="770" r="15.4" fill="#000" opacity="0.18" filter="url(#b2)"/>
<circle cx="593" cy="768" r="14.4" fill="#000"/>
<circle cx="830.7" cy="770" r="15" fill="#000" opacity="0.18" filter="url(#b2)"/>
<circle cx="829.2" cy="768" r="14" fill="#000"/>
<use href="#uparrow" x="619.2" y="811.9"/>
<use href="#uparrow" x="595" y="822.9"/>
<text x="619.5" y="825.6" font-size="13" fill="#000" font-weight="normal" text-anchor="middle" textLength="32" lengthAdjust="spacingAndGlyphs" stroke="#000" stroke-width="0.3" stroke-linejoin="round">enter</text>
<text x="595" y="836.6" font-size="13" fill="#000" font-weight="normal" text-anchor="middle" textLength="31" lengthAdjust="spacingAndGlyphs" stroke="#000" stroke-width="0.3" stroke-linejoin="round">enter</text>
<rect x="585.8" y="881.2" width="17.1" height="16.8" fill="#7B68EE" stroke="#2b2470" stroke-width="0.8"/>
<svg x="585.8" y="881.2" width="17.1" height="16.8" viewBox="0 0 17.1 16.8" overflow="hidden"><text x="8.7" y="11.2" font-size="9.4" fill="#fff" opacity="0.88" text-anchor="middle" textLength="18.4" lengthAdjust="spacingAndGlyphs">CAB</text></svg>
<rect x="585.8" y="901.3" width="17.1" height="16.8" fill="#7B68EE" stroke="#2b2470" stroke-width="0.8"/>
<svg x="585.8" y="901.3" width="17.1" height="16.8" viewBox="0 0 17.1 16.8" overflow="hidden"><text x="8.7" y="11.2" font-size="9.4" fill="#fff" opacity="0.88" text-anchor="middle" textLength="18.4" lengthAdjust="spacingAndGlyphs">CAB</text></svg>
<rect x="611" y="881.2" width="17.1" height="16.8" fill="#7B68EE" stroke="#2b2470" stroke-width="0.8"/>
<svg x="611" y="881.2" width="17.1" height="16.8" viewBox="0 0 17.1 16.8" overflow="hidden"><text x="8.7" y="11.2" font-size="9.4" fill="#fff" opacity="0.88" text-anchor="middle" textLength="18.4" lengthAdjust="spacingAndGlyphs">CAB</text></svg>
<rect x="611" y="901.3" width="17.1" height="16.8" fill="#7B68EE" stroke="#2b2470" stroke-width="0.8"/>
<svg x="611" y="901.3" width="17.1" height="16.8" viewBox="0 0 17.1 16.8" overflow="hidden"><text x="8.7" y="11.2" font-size="9.4" fill="#fff" opacity="0.88" text-anchor="middle" textLength="18.4" lengthAdjust="spacingAndGlyphs">CAB</text></svg>
<rect x="634.4" y="881.2" width="17.1" height="16.8" fill="#7B68EE" stroke="#2b2470" stroke-width="0.8"/>
<svg x="634.4" y="881.2" width="17.1" height="16.8" viewBox="0 0 17.1 16.8" overflow="hidden"><text x="8.7" y="11.2" font-size="9.4" fill="#fff" opacity="0.88" text-anchor="middle" textLength="18.4" lengthAdjust="spacingAndGlyphs">CAB</text></svg>
<rect x="634.4" y="901.3" width="17.1" height="16.8" fill="#7B68EE" stroke="#2b2470" stroke-width="0.8"/>
<svg x="634.4" y="901.3" width="17.1" height="16.8" viewBox="0 0 17.1 16.8" overflow="hidden"><text x="8.7" y="11.2" font-size="9.4" fill="#fff" opacity="0.88" text-anchor="middle" textLength="18.4" lengthAdjust="spacingAndGlyphs">CAB</text></svg>
<rect x="659.4" y="881.2" width="17.1" height="16.8" fill="#7B68EE" stroke="#2b2470" stroke-width="0.8"/>
<svg x="659.4" y="881.2" width="17.1" height="16.8" viewBox="0 0 17.1 16.8" overflow="hidden"><text x="8.7" y="11.2" font-size="9.4" fill="#fff" opacity="0.88" text-anchor="middle" textLength="18.4" lengthAdjust="spacingAndGlyphs">CAB</text></svg>
<rect x="659.4" y="901.3" width="17.1" height="16.8" fill="#7B68EE" stroke="#2b2470" stroke-width="0.8"/>
<svg x="659.4" y="901.3" width="17.1" height="16.8" viewBox="0 0 17.1 16.8" overflow="hidden"><text x="8.7" y="11.2" font-size="9.4" fill="#fff" opacity="0.88" text-anchor="middle" textLength="18.4" lengthAdjust="spacingAndGlyphs">CAB</text></svg>
<rect x="684.4" y="881.2" width="17.1" height="16.8" fill="#7B68EE" stroke="#2b2470" stroke-width="0.8"/>
<svg x="684.4" y="881.2" width="17.1" height="16.8" viewBox="0 0 17.1 16.8" overflow="hidden"><text x="8.7" y="11.2" font-size="9.4" fill="#fff" opacity="0.88" text-anchor="middle" textLength="18.4" lengthAdjust="spacingAndGlyphs">CAB</text></svg>
<rect x="684.4" y="901.3" width="17.1" height="16.8" fill="#7B68EE" stroke="#2b2470" stroke-width="0.8"/>
<svg x="684.4" y="901.3" width="17.1" height="16.8" viewBox="0 0 17.1 16.8" overflow="hidden"><text x="8.7" y="11.2" font-size="9.4" fill="#fff" opacity="0.88" text-anchor="middle" textLength="18.4" lengthAdjust="spacingAndGlyphs">CAB</text></svg>
<rect x="707.7" y="881.2" width="17.1" height="16.8" fill="#7B68EE" stroke="#2b2470" stroke-width="0.8"/>
<svg x="707.7" y="881.2" width="17.1" height="16.8" viewBox="0 0 17.1 16.8" overflow="hidden"><text x="8.7" y="11.2" font-size="9.4" fill="#fff" opacity="0.88" text-anchor="middle" textLength="18.4" lengthAdjust="spacingAndGlyphs">CAB</text></svg>
<rect x="707.7" y="901.3" width="17.1" height="16.8" fill="#7B68EE" stroke="#2b2470" stroke-width="0.8"/>
<svg x="707.7" y="901.3" width="17.1" height="16.8" viewBox="0 0 17.1 16.8" overflow="hidden"><text x="8.7" y="11.2" font-size="9.4" fill="#fff" opacity="0.88" text-anchor="middle" textLength="18.4" lengthAdjust="spacingAndGlyphs">CAB</text></svg>
<rect x="731.5" y="881.2" width="17.1" height="16.8" fill="#7B68EE" stroke="#2b2470" stroke-width="0.8"/>
<svg x="731.5" y="881.2" width="17.1" height="16.8" viewBox="0 0 17.1 16.8" overflow="hidden"><text x="8.7" y="11.2" font-size="9.4" fill="#fff" opacity="0.88" text-anchor="middle" textLength="18.4" lengthAdjust="spacingAndGlyphs">CAB</text></svg>
<rect x="731.5" y="901.3" width="17.1" height="16.8" fill="#7B68EE" stroke="#2b2470" stroke-width="0.8"/>
<svg x="731.5" y="901.3" width="17.1" height="16.8" viewBox="0 0 17.1 16.8" overflow="hidden"><text x="8.7" y="11.2" font-size="9.4" fill="#fff" opacity="0.88" text-anchor="middle" textLength="18.4" lengthAdjust="spacingAndGlyphs">CAB</text></svg>
<rect x="756.5" y="881.2" width="17.1" height="16.8" fill="#7B68EE" stroke="#2b2470" stroke-width="0.8"/>
<svg x="756.5" y="881.2" width="17.1" height="16.8" viewBox="0 0 17.1 16.8" overflow="hidden"><text x="8.7" y="11.2" font-size="9.4" fill="#fff" opacity="0.88" text-anchor="middle" textLength="18.4" lengthAdjust="spacingAndGlyphs">CAB</text></svg>
<rect x="756.5" y="901.3" width="17.1" height="16.8" fill="#7B68EE" stroke="#2b2470" stroke-width="0.8"/>
<svg x="756.5" y="901.3" width="17.1" height="16.8" viewBox="0 0 17.1 16.8" overflow="hidden"><text x="8.7" y="11.2" font-size="9.4" fill="#fff" opacity="0.88" text-anchor="middle" textLength="18.4" lengthAdjust="spacingAndGlyphs">CAB</text></svg>
<rect x="779.8" y="881.2" width="17.1" height="16.8" fill="#7B68EE" stroke="#2b2470" stroke-width="0.8"/>
<svg x="779.8" y="881.2" width="17.1" height="16.8" viewBox="0 0 17.1 16.8" overflow="hidden"><text x="8.7" y="11.2" font-size="9.4" fill="#fff" opacity="0.88" text-anchor="middle" textLength="18.4" lengthAdjust="spacingAndGlyphs">CAB</text></svg>
<rect x="779.8" y="901.3" width="17.1" height="16.8" fill="#7B68EE" stroke="#2b2470" stroke-width="0.8"/>
<svg x="779.8" y="901.3" width="17.1" height="16.8" viewBox="0 0 17.1 16.8" overflow="hidden"><text x="8.7" y="11.2" font-size="9.4" fill="#fff" opacity="0.88" text-anchor="middle" textLength="18.4" lengthAdjust="spacingAndGlyphs">CAB</text></svg>
<rect x="611.2" y="894.8" width="11.2" height="10.6" fill="#FCE068" stroke="#444" stroke-width="0.8"/>
<circle cx="616.8" cy="900.1" r="1.6" fill="#F7D21E"/>
<rect x="676" y="894.8" width="11.2" height="10.6" fill="#FCE068" stroke="#444" stroke-width="0.8"/>
<circle cx="681.6" cy="900.1" r="1.6" fill="#F7D21E"/>
<rect x="773.1" y="895.2" width="11.2" height="10.6" fill="#FCE068" stroke="#444" stroke-width="0.8"/>
<circle cx="778.7" cy="900.5" r="1.6" fill="#F7D21E"/>
<path d="M730.5 871.05 v-4.7 a3.6 3.6 0 0 1 3.6 -3.6 h0.98 a3.6 3.6 0 0 1 3.6 3.6 v4.7 z" fill="#E5E9EB" stroke="#333" stroke-width="0.9"/>
<path d="M738.68 871.05 v-4.7 a3.6 3.6 0 0 1 3.6 -3.6 h0.98 a3.6 3.6 0 0 1 3.6 3.6 v4.7 z" fill="#E5E9EB" stroke="#333" stroke-width="0.9"/>
<path d="M746.86 871.05 v-4.7 a3.6 3.6 0 0 1 3.6 -3.6 h0.98 a3.6 3.6 0 0 1 3.6 3.6 v4.7 z" fill="#E5E9EB" stroke="#333" stroke-width="0.9"/>
<path d="M755.04 871.05 v-4.7 a3.6 3.6 0 0 1 3.6 -3.6 h0.98 a3.6 3.6 0 0 1 3.6 3.6 v4.7 z" fill="#E5E9EB" stroke="#333" stroke-width="0.9"/>
<path d="M763.22 871.05 v-4.7 a3.6 3.6 0 0 1 3.6 -3.6 h0.98 a3.6 3.6 0 0 1 3.6 3.6 v4.7 z" fill="#E5E9EB" stroke="#333" stroke-width="0.9"/>
<path d="M771.4 871.05 v-4.7 a3.6 3.6 0 0 1 3.6 -3.6 h0.98 a3.6 3.6 0 0 1 3.6 3.6 v4.7 z" fill="#E5E9EB" stroke="#333" stroke-width="0.9"/>
<path d="M730.5 928.4 v4.6 a3.6 3.6 0 0 0 3.6 3.6 h0.98 a3.6 3.6 0 0 0 3.6 -3.6 v-4.6 z" fill="#E5E9EB" stroke="#333" stroke-width="0.9"/>
<path d="M738.68 928.4 v4.6 a3.6 3.6 0 0 0 3.6 3.6 h0.98 a3.6 3.6 0 0 0 3.6 -3.6 v-4.6 z" fill="#E5E9EB" stroke="#333" stroke-width="0.9"/>
<path d="M746.86 928.4 v4.6 a3.6 3.6 0 0 0 3.6 3.6 h0.98 a3.6 3.6 0 0 0 3.6 -3.6 v-4.6 z" fill="#E5E9EB" stroke="#333" stroke-width="0.9"/>
<path d="M755.04 928.4 v4.6 a3.6 3.6 0 0 0 3.6 3.6 h0.98 a3.6 3.6 0 0 0 3.6 -3.6 v-4.6 z" fill="#E5E9EB" stroke="#333" stroke-width="0.9"/>
<path d="M763.22 928.4 v4.6 a3.6 3.6 0 0 0 3.6 3.6 h0.98 a3.6 3.6 0 0 0 3.6 -3.6 v-4.6 z" fill="#E5E9EB" stroke="#333" stroke-width="0.9"/>
<path d="M771.4 928.4 v4.6 a3.6 3.6 0 0 0 3.6 3.6 h0.98 a3.6 3.6 0 0 0 3.6 -3.6 v-4.6 z" fill="#E5E9EB" stroke="#333" stroke-width="0.9"/>
<text x="684.8" y="939.2" font-size="17.4" fill="#F2305F" font-weight="normal" text-anchor="middle" textLength="62" lengthAdjust="spacingAndGlyphs">Arcade</text>
<rect x="592" y="924.6" width="8" height="11.4" rx="3.6" fill="#fff" stroke="#555" stroke-width="0.75"/>
<rect x="605.6" y="924.6" width="8" height="11.4" rx="3.6" fill="#fff" stroke="#555" stroke-width="0.75"/>
<rect x="585.8" y="933" width="34" height="13.6" rx="0.8" fill="#10ADF2" stroke="#1c1c1c" stroke-width="0.8"/>
<text x="603.2" y="942.6" font-size="13" fill="#000" font-weight="normal" text-anchor="middle" textLength="37" lengthAdjust="spacingAndGlyphs" stroke="#000" stroke-width="0.3" stroke-linejoin="round">admin</text>
<use href="#rt10" x="637.5" y="1003.3"/>
<use href="#rt10" x="704" y="1003.3"/>
<use href="#rt10" x="770.7" y="1003.3"/>
<use href="#rt10" x="904.9" y="1003.3"/>
<use href="#rt10" x="604" y="1069.9"/>
<use href="#rt10" x="670.6" y="1069.9"/>
<use href="#rt10" x="736.9" y="1069.9"/>
<use href="#rt10" x="804.1" y="1069.9"/>
<use href="#rt10" x="870.75" y="1069.9"/>
<use href="#rt10" x="637.5" y="1136.5"/>
<use href="#rt10" x="704" y="1136.5"/>
<use href="#rt10" x="770.7" y="1136.5"/>
<use href="#rt10" x="837.6" y="1136.5"/>
<use href="#rt10" x="904.9" y="1136.5"/>
<use href="#rt10" x="604" y="1202.8"/>
<use href="#rt10" x="670.6" y="1202.8"/>
<use href="#rt10" x="736.9" y="1202.8"/>
<use href="#rt10" x="804.1" y="1202.8"/>
<use href="#rt10" x="870.75" y="1202.8"/>
<use href="#rt10" x="688.6" y="1264.2"/>
<use href="#rt10" x="754.9" y="1277.6"/>
<use href="#rt10" x="822.2" y="1290.75"/>
<use href="#rt10" x="898.6" y="1270"/>
<circle cx="354.1" cy="1003.3" r="15" fill="#000" opacity="0.18" filter="url(#b2)"/>
<circle cx="352.6" cy="1001.3" r="14" fill="#000"/>
<circle cx="594" cy="1006.3" r="15" fill="#000" opacity="0.18" filter="url(#b2)"/>
<circle cx="592.5" cy="1004.3" r="14" fill="#000"/>
<circle cx="830.9" cy="1006.3" r="15" fill="#000" opacity="0.18" filter="url(#b2)"/>
<circle cx="829.4" cy="1004.3" r="14" fill="#000"/>
<circle cx="357.5" cy="1249.1" r="12.3" fill="#000" opacity="0.18" filter="url(#b2)"/>
<circle cx="356" cy="1247.1" r="11.3" fill="#000"/>
<circle cx="598.9" cy="1248.5" r="12.4" fill="#000" opacity="0.18" filter="url(#b2)"/>
<circle cx="597.4" cy="1246.5" r="11.4" fill="#000"/>
<circle cx="840.1" cy="1248.5" r="12.4" fill="#000" opacity="0.18" filter="url(#b2)"/>
<circle cx="838.6" cy="1246.5" r="11.4" fill="#000"/>
<path d="M983 985 H1049.4 V997.5 h-5 V1025.5 h5 V1040 H983 Z" fill="#E5E9EB" stroke="#555" stroke-width="1"/>
<text x="1018.5" y="1016" font-size="17" fill="#111" font-weight="normal" text-anchor="middle" textLength="33" lengthAdjust="spacingAndGlyphs" stroke="#111" stroke-width="0.8" stroke-linejoin="round">F+B</text>
<path d="M984.5 1069.5 H1052 V1082 h-5 V1110.5 h5 V1125 H984.5 Z" fill="#E5E9EB" stroke="#555" stroke-width="1"/>
<text x="1020" y="1100.5" font-size="17" fill="#111" font-weight="normal" text-anchor="middle" textLength="33" lengthAdjust="spacingAndGlyphs" stroke="#111" stroke-width="0.8" stroke-linejoin="round">F+B</text>
<path d="M984.5 1158.7 H1051 V1171.2 h-5 V1199.5 h5 V1214 H984.5 Z" fill="#E5E9EB" stroke="#555" stroke-width="1"/>
<text x="1020" y="1189.7" font-size="17" fill="#111" font-weight="normal" text-anchor="middle" textLength="33" lengthAdjust="spacingAndGlyphs" stroke="#111" stroke-width="0.8" stroke-linejoin="round">F+B</text>
<rect x="990.7" y="1330.9" width="55.3" height="56.6" fill="#FCE068" stroke="#555" stroke-width="0.9"/>
<text x="1019.3" y="1362.8" font-size="12.6" fill="#111" font-weight="normal" text-anchor="middle" textLength="104" lengthAdjust="spacingAndGlyphs" stroke="#111" stroke-width="0.34" stroke-linejoin="round">prize redemption</text>
<path d="M78.9 1560.8 V1570.3 H131.6 V1560.8" fill="none" stroke="#1a1a1a" stroke-width="1.8"/>
<text x="79.6" y="1588.7" font-size="16.4" fill="#222" font-weight="normal" text-anchor="start" textLength="51.2" lengthAdjust="spacingAndGlyphs">10 Feet</text>
</g>
</svg>
</body></html>
